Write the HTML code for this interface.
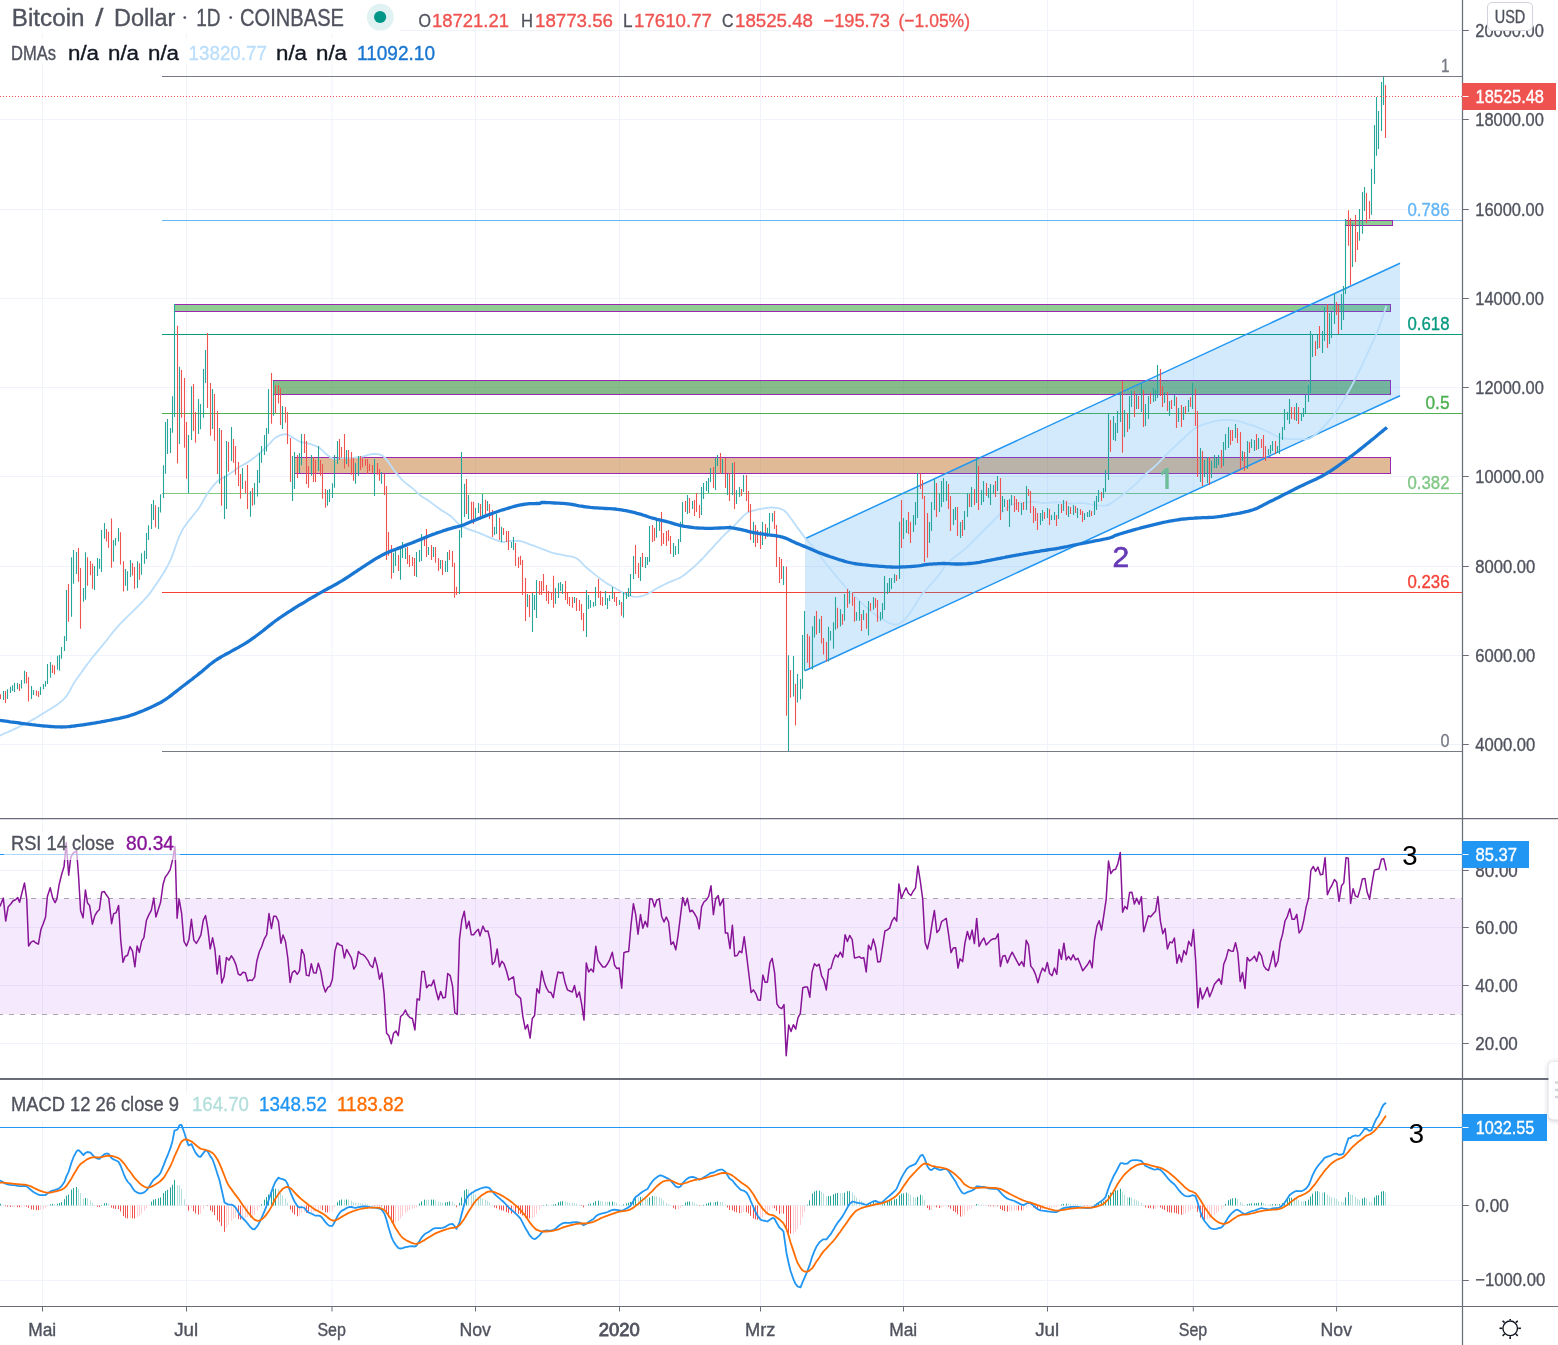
<!DOCTYPE html>
<html><head><meta charset="utf-8"><title>BTCUSD</title>
<style>html,body{margin:0;padding:0;background:#fff;overflow:hidden}svg{display:block;will-change:transform}text{font-family:"Liberation Sans", sans-serif}</style>
</head><body>
<svg width="1558" height="1345" viewBox="0 0 1558 1345" font-family='"Liberation Sans", sans-serif' shape-rendering="auto"><line x1="42.5" y1="0" x2="42.5" y2="1306" stroke="#f0f3fa" stroke-width="1"/>
<line x1="186.5" y1="0" x2="186.5" y2="1306" stroke="#f0f3fa" stroke-width="1"/>
<line x1="332.0" y1="0" x2="332.0" y2="1306" stroke="#f0f3fa" stroke-width="1"/>
<line x1="475.5" y1="0" x2="475.5" y2="1306" stroke="#f0f3fa" stroke-width="1"/>
<line x1="619.5" y1="0" x2="619.5" y2="1306" stroke="#f0f3fa" stroke-width="1"/>
<line x1="760.5" y1="0" x2="760.5" y2="1306" stroke="#f0f3fa" stroke-width="1"/>
<line x1="903.5" y1="0" x2="903.5" y2="1306" stroke="#f0f3fa" stroke-width="1"/>
<line x1="1047.5" y1="0" x2="1047.5" y2="1306" stroke="#f0f3fa" stroke-width="1"/>
<line x1="1193.3" y1="0" x2="1193.3" y2="1306" stroke="#f0f3fa" stroke-width="1"/>
<line x1="1336.6" y1="0" x2="1336.6" y2="1306" stroke="#f0f3fa" stroke-width="1"/>
<line x1="0" y1="30.5" x2="1462.5" y2="30.5" stroke="#f0f3fa" stroke-width="1"/>
<line x1="0" y1="119.5" x2="1462.5" y2="119.5" stroke="#f0f3fa" stroke-width="1"/>
<line x1="0" y1="209.5" x2="1462.5" y2="209.5" stroke="#f0f3fa" stroke-width="1"/>
<line x1="0" y1="298.5" x2="1462.5" y2="298.5" stroke="#f0f3fa" stroke-width="1"/>
<line x1="0" y1="387.5" x2="1462.5" y2="387.5" stroke="#f0f3fa" stroke-width="1"/>
<line x1="0" y1="476.5" x2="1462.5" y2="476.5" stroke="#f0f3fa" stroke-width="1"/>
<line x1="0" y1="566.5" x2="1462.5" y2="566.5" stroke="#f0f3fa" stroke-width="1"/>
<line x1="0" y1="655.5" x2="1462.5" y2="655.5" stroke="#f0f3fa" stroke-width="1"/>
<line x1="0" y1="744.5" x2="1462.5" y2="744.5" stroke="#f0f3fa" stroke-width="1"/>
<line x1="0" y1="870.5" x2="1462.5" y2="870.5" stroke="#f0f3fa" stroke-width="1"/>
<line x1="0" y1="927.5" x2="1462.5" y2="927.5" stroke="#f0f3fa" stroke-width="1"/>
<line x1="0" y1="985.5" x2="1462.5" y2="985.5" stroke="#f0f3fa" stroke-width="1"/>
<line x1="0" y1="1043.5" x2="1462.5" y2="1043.5" stroke="#f0f3fa" stroke-width="1"/>
<line x1="0" y1="1205.5" x2="1462.5" y2="1205.5" stroke="#f0f3fa" stroke-width="1"/>
<line x1="0" y1="1280.5" x2="1462.5" y2="1280.5" stroke="#f0f3fa" stroke-width="1"/>
<rect x="0" y="898.5" width="1462.5" height="116" fill="rgba(160,50,240,0.105)"/>
<line x1="-2" y1="898.5" x2="1462.5" y2="898.5" stroke="#a6a6ac" stroke-width="1.1" stroke-dasharray="5 6"/>
<line x1="-2" y1="1014.5" x2="1462.5" y2="1014.5" stroke="#a6a6ac" stroke-width="1.1" stroke-dasharray="5 6"/>
<line x1="162" y1="76.5" x2="1462.5" y2="76.5" stroke="#787b86" stroke-width="1"/>
<line x1="162" y1="220.5" x2="1462.5" y2="220.5" stroke="#64b5f6" stroke-width="1"/>
<line x1="162" y1="334.5" x2="1462.5" y2="334.5" stroke="#089981" stroke-width="1"/>
<line x1="162" y1="413.5" x2="1462.5" y2="413.5" stroke="#4caf50" stroke-width="1"/>
<line x1="162" y1="493.5" x2="1462.5" y2="493.5" stroke="#81c784" stroke-width="1"/>
<line x1="162" y1="592.5" x2="1462.5" y2="592.5" stroke="#f44336" stroke-width="1"/>
<line x1="162" y1="751.5" x2="1462.5" y2="751.5" stroke="#787b86" stroke-width="1"/>
<rect x="174.5" y="304.5" width="1216" height="7" fill="rgba(76,175,80,0.62)" stroke="#9c27b0" stroke-width="1"/>
<rect x="273.5" y="380.5" width="1117" height="14" fill="rgba(56,142,60,0.6)" stroke="#9c27b0" stroke-width="1"/>
<rect x="294.5" y="457.5" width="1096" height="16" fill="rgba(203,140,82,0.6)" stroke="#9c27b0" stroke-width="1"/>
<rect x="1345.5" y="220.5" width="47" height="5" fill="rgba(76,175,80,0.62)" stroke="#9c27b0" stroke-width="1"/>
<path d="M1165.6 467.9 L1168.7 467.9 L1168.7 488.9 L1165.3 488.9 L1165.3 473.0 L1161.9 475.6 L1160.5 472.9 Z" fill="#81c784"/>
<path d="M805 538.7 L1400 263.2 L1400 395.7 L805 670.7 Z" fill="rgba(33,150,243,0.20)"/>
<line x1="805" y1="538.7" x2="1400" y2="263.2" stroke="#2196f3" stroke-width="1.5"/>
<line x1="805" y1="670.7" x2="1400" y2="395.7" stroke="#2196f3" stroke-width="1.5"/>
<path d="M-0.8 735.9 L0.4 735.4 L1.9 734.7 L3.6 733.9 L5.6 733 L7.8 732.1 L10 731.1 L12.4 730 L14.7 728.9 L17 727.9 L19.2 726.8 L21.3 725.8 L23.4 724.7 L25.6 723.5 L27.7 722.4 L29.8 721.3 L31.9 720.1 L34.1 718.9 L36.2 717.7 L38.3 716.4 L40.4 715.1 L42.5 713.8 L44.7 712.5 L46.9 711.1 L49.2 709.7 L51.5 708.3 L53.8 706.8 L56 705.4 L58.1 703.9 L60.2 702.3 L62.1 700.7 L63.8 699.1 L66.7 695.8 L68.9 692.3 L70.9 688.6 L72.9 684.9 L75.2 681.1 L77.2 678.3 L79.2 675.4 L81.3 672.4 L83.5 669.4 L85.7 666.4 L87.8 663.5 L90 660.7 L92.1 658 L94.2 655.3 L96.3 652.8 L98.4 650.3 L100.5 647.7 L102.6 645.2 L104.7 642.7 L106.7 640.2 L108.6 637.7 L110.5 635.3 L112.4 632.9 L114.5 630.3 L116.8 627.6 L119.4 624.7 L121.1 622.8 L123.1 620.9 L125.1 618.8 L127.3 616.7 L129.5 614.6 L131.8 612.4 L134 610.2 L136.2 608 L138.4 605.9 L140.4 603.9 L142.3 602 L143.9 600.1 L146.8 596.9 L149.2 594.1 L151.2 591.4 L153.1 588.8 L155 586 L157 583 L159.2 579.7 L161.4 576.2 L163.7 572.7 L165.9 569 L168 565.1 L170.1 560.9 L172.4 555.4 L174.5 549.4 L176.6 543.2 L178.9 537.1 L181.6 531.4 L183.5 528.1 L185.7 524.9 L188.1 521.7 L190.5 518.6 L192.9 515.7 L195.2 512.8 L197.3 510.2 L199.1 507.7 L201.7 503.5 L203.6 500.1 L205.3 497 L207.2 493.8 L209.6 490.5 L212.1 487.2 L214.6 484.1 L217.1 481.6 L219.5 479.7 L221.9 478.4 L224.3 477.3 L226.9 475.8 L229.1 474.3 L231.4 472.6 L233.8 470.9 L236.1 469.2 L238.3 467.7 L240.9 466.1 L243.3 464.7 L245.7 463.4 L248.1 461.9 L250.6 460.2 L253 458.5 L255.5 456.6 L258 454.6 L260.4 452.4 L263 450.1 L265.4 447.8 L267.8 445.6 L269.9 443.4 L271.9 441.1 L273.8 439.1 L275.9 437.4 L278.4 436.1 L281 435 L283.5 434.4 L285.8 434.1 L288.1 434.7 L290.1 436 L292.3 437.4 L294.3 438.5 L296.4 439.8 L298.5 441 L300.5 442 L302.6 442.5 L304.5 442.7 L307 443.1 L309.1 443.7 L311.4 444.4 L314 445.3 L316.4 446.2 L318.5 447.2 L321.2 449.3 L323.5 451.6 L325.8 453.8 L328.3 455.7 L330.7 457.5 L333.2 458.7 L335.2 458.8 L337.2 458.6 L339.3 458.1 L341.4 457.8 L343.7 457.8 L346.2 457.8 L348.5 457.8 L350 457.8 L349.8 458 L349.8 457.9 L351.4 457.8 L353.6 457.7 L356.1 457.4 L358.8 457.2 L361.3 456.8 L363.6 456.3 L366 455.6 L368.3 454.9 L370.6 454.4 L372.7 454 L375.2 453.9 L377.6 454.1 L379.7 454.5 L381.7 455.2 L384.6 457.4 L387.4 460.9 L389.3 463.4 L391.4 466.4 L393.5 469.5 L395.6 472.3 L397.7 474.8 L399.7 477.1 L401.7 479.3 L403.8 481.3 L405.8 483.1 L407.9 484.7 L409.9 486.2 L412 487.9 L414 489.7 L416 491.6 L418 493.4 L420.1 495.2 L422.5 496.9 L425 498.5 L427.5 500.1 L430 501.8 L432.4 503.6 L434.8 505.4 L437.2 507.3 L439.8 509.1 L442 510.6 L444.4 512 L446.8 513.5 L449.1 515 L451.2 516.5 L453.5 518.6 L455.5 520.8 L457.4 522.9 L459.4 524.7 L461.4 526 L463.3 527 L465.3 527.8 L467.6 528.8 L469.7 529.6 L471.9 530.4 L474.3 531.2 L476.7 532 L479 532.9 L481.3 533.8 L483.6 534.8 L485.9 535.8 L488.2 536.8 L490.5 537.8 L492.8 538.7 L495.2 539.7 L497.6 540.6 L499.9 541.4 L501.9 541.9 L504.2 542 L506.1 541.7 L508 541.3 L510.1 541 L512.5 540.9 L514.9 540.8 L517.4 540.8 L519.9 541 L522.4 541.6 L524.8 542.4 L527.3 543.4 L529.7 544.3 L531.9 545.1 L534.3 545.9 L536.5 546.8 L538.5 547.5 L540 548.1 L540.7 548.4 L541.4 548.8 L543.1 549.4 L545.3 550.2 L547.8 551.2 L550.4 552.1 L552.9 552.9 L555.2 553.5 L557.6 554 L559.9 554.4 L562.2 554.9 L564.3 555.3 L567 555.8 L569.7 556.3 L572.1 556.7 L574.2 557.3 L576.8 558.5 L579.1 560.2 L581 562.1 L583.1 564.3 L585.6 566.8 L587.8 568.7 L590.3 570.8 L592.9 572.9 L595.4 574.9 L597.9 576.9 L600.3 578.8 L602.8 580.6 L605.2 582.3 L607.7 583.9 L610.3 585.3 L612.7 586.7 L615.1 588 L617.2 589.4 L619.2 590.6 L621.2 591.8 L623.2 592.9 L625.3 593.9 L627.3 594.9 L629.4 595.6 L631.4 596.2 L633.5 596.6 L635.5 596.8 L637.5 596.7 L639.6 596.5 L641.6 596.1 L643.6 595.5 L645.6 594.7 L647.8 593.8 L650.1 592.5 L652.5 591.1 L655 589.5 L657.6 588 L659.8 586.9 L662 585.7 L664.4 584.5 L666.7 583.4 L669 582.3 L671.3 581.3 L673.7 580.4 L676 579.5 L678.3 578.5 L680.5 577.4 L683.1 575.8 L685.5 574 L687.9 572 L690.3 570 L692.8 567.9 L695.2 565.7 L697.7 563.4 L700.1 561 L702.6 558.5 L705 555.8 L707.5 553.1 L709.9 550.4 L712.4 547.8 L714.8 545.1 L717.3 542.4 L719.7 539.8 L722 537.4 L724.4 534.9 L726.8 532.5 L728.8 530.4 L730 529.1 L729.2 530.2 L728.2 531.6 L729.5 530.3 L731.5 528.3 L734 525.8 L736.4 523.4 L738.7 520.9 L741.3 518.2 L743.8 515.6 L746.2 513.6 L748.3 512.3 L750.3 511.5 L752.2 510.9 L754.3 510.3 L756.7 509.7 L759.2 509.2 L761.7 508.8 L764.2 508.4 L766.6 508 L769.1 507.7 L771.5 507.5 L774 507.6 L776.5 507.9 L779.1 508.4 L781.6 509.2 L783.8 510.3 L786.2 512.3 L788.2 514.8 L790.3 517.7 L792.3 520.3 L794.3 523.2 L796.4 526.2 L798.5 529.1 L800.6 531.9 L802.6 534.6 L804.6 537.3 L806.7 539.8 L808.7 542 L810.7 544.1 L812.7 546.3 L814.9 548.8 L817.2 551.8 L819.7 555.1 L822.2 558.5 L824.7 561.9 L827.1 565 L829.6 568.1 L832 571.1 L834.5 574.1 L837 577.1 L839.4 580 L841.9 582.8 L844.3 585.6 L846.8 588.1 L849.2 590.6 L851.7 593 L854.1 595.4 L856.6 597.9 L859 600.4 L861.5 602.9 L863.9 605.2 L866.4 607.4 L868.8 609.5 L871.3 611.5 L873.8 613.4 L876.2 615.2 L878.7 616.9 L881.1 618.5 L883.6 619.9 L886.1 621.3 L888.7 622.7 L891.2 623.8 L893.4 624.5 L895.8 624.7 L897.9 624.2 L899.9 623.2 L902.1 621.7 L904.3 619.8 L906.5 617.5 L908.6 614.8 L910.8 611.8 L913 608.5 L915.3 604.7 L917.7 600.7 L920 597 L922 594.4 L923.9 592.2 L926.4 589.4 L928.3 587.1 L930.6 584.5 L933.1 581.8 L935.5 579 L937.8 576.3 L940.4 572.9 L942.8 569.4 L945.2 566.1 L947.6 563.2 L950.1 560.8 L952.5 558.8 L955 556.9 L957.4 555 L959.9 553 L962.4 550.9 L964.9 548.9 L967.2 546.8 L969.4 544.8 L971.4 542.8 L973.4 540.7 L975.4 538.7 L977.5 536.6 L979.5 534.6 L981.6 532.5 L983.6 530.5 L985.6 528.5 L987.6 526.5 L989.6 524.5 L991.8 522.3 L994.1 519.9 L996.6 517.3 L999.1 514.8 L1001.6 512.5 L1004.1 510.4 L1006.5 508.3 L1009 506.5 L1011.4 505.1 L1013.8 504.2 L1016.2 503.7 L1018.7 503.3 L1021.2 503 L1023.4 502.7 L1025.7 502.4 L1028 502.1 L1030.4 501.9 L1032.7 501.9 L1034.9 502 L1037.2 502.2 L1039.4 502.6 L1041.7 502.9 L1044.1 503 L1046.2 503 L1048.4 502.9 L1050.6 502.7 L1052.8 502.5 L1055 502.4 L1057.2 502.3 L1059.4 502.5 L1061.6 502.7 L1063.9 502.9 L1066.1 503.2 L1068.2 503.4 L1070.3 503.5 L1072.7 503.5 L1075 503.3 L1077.2 503.1 L1079.5 503 L1081.7 503 L1084.1 503.2 L1086.4 503.5 L1088.7 503.9 L1091 504.3 L1093.2 504.6 L1095.8 505 L1098.4 505.3 L1100.8 505.6 L1103 505.6 L1106 505.3 L1108.6 504.6 L1110 504.3 L1108.2 505.2 L1106.5 505.7 L1107.7 504.9 L1109.8 503.7 L1112.3 502.3 L1114.7 500.7 L1117.1 499.1 L1119.5 497.3 L1122 495.3 L1124.5 493.4 L1127 491.4 L1129.4 489.4 L1131.9 487.4 L1134.3 485.2 L1136.8 482.8 L1139.3 480.3 L1141.7 477.8 L1144.2 475.4 L1146.6 473.3 L1149.1 471.3 L1151.5 469.3 L1154 467.2 L1156.4 464.9 L1158.9 462.4 L1161.3 459.9 L1163.8 457.4 L1166.2 454.9 L1168.7 452.4 L1171.2 450 L1173.6 447.6 L1176.1 445.3 L1178.5 443 L1181 440.8 L1183.4 438.6 L1185.9 436.2 L1188.3 433.8 L1190.8 431.6 L1193.2 429.6 L1195.6 428 L1198 426.8 L1200.5 425.7 L1203 424.7 L1205.3 423.9 L1207.6 423.2 L1210 422.5 L1212.3 421.9 L1214.5 421.4 L1217 420.8 L1219.4 420.3 L1221.8 420 L1224.3 419.8 L1226.5 419.7 L1228.8 419.8 L1231.1 420 L1233.4 420.2 L1235.8 420.6 L1238.1 421.1 L1240.4 421.7 L1242.7 422.4 L1245 423.2 L1247.2 423.9 L1249.7 424.6 L1252.1 425.4 L1254.5 426.2 L1257 427.1 L1259.2 428 L1261.6 429 L1263.9 430 L1266.3 431 L1268.5 432 L1271 433.3 L1273.5 434.7 L1275.9 435.9 L1278.3 437 L1280.7 437.7 L1283.1 438.2 L1285.5 438.6 L1288.1 438.9 L1290.4 439.1 L1292.8 439.1 L1295.3 439.1 L1297.8 439.1 L1300 439.1 L1302.6 439.2 L1304.9 439.3 L1307.1 439.2 L1309.4 438.6 L1311.9 437.3 L1314.3 435.5 L1316.8 433.4 L1319.3 431.2 L1321.7 428.8 L1324.3 426.1 L1326.7 423.3 L1329.1 420.6 L1331.2 418 L1333.3 415.4 L1335.2 412.8 L1337.2 409.9 L1339.3 406.9 L1341.3 403.6 L1343.4 400.3 L1345.4 396.8 L1347.5 393.3 L1349.5 389.7 L1351.6 386 L1353.6 382.1 L1355.7 378.2 L1357.7 374.1 L1359.7 370 L1361.8 365.8 L1363.8 361.4 L1365.9 356.9 L1367.9 352.3 L1370 347.8 L1372 343.4 L1374.1 339.1 L1376.1 334.7 L1378.1 329.8 L1380.4 323.7 L1382.7 316.8 L1384.9 310.5 L1386.3 306.1" fill="none" stroke="#bbdefb" stroke-width="1.8" stroke-linejoin="round" stroke-linecap="butt"/>
<path d="M3.5 690.9V699.9M7.5 689.3V699.1M10.5 686.8V693.1M12.5 685.2V690.9M14.5 682.8V692.1M17.5 683.1V689.3M21.5 680V688.5M24.5 670.8V683.6M31.5 686V699.1M33.5 690.1V695M40.5 686.8V695M43.5 684.1V689.3M45.5 681.1V686.8M47.5 663.9V684.1M50.5 662V677.8M57.5 655.8V669.7M59.5 654.9V670.8M61.5 647.1V658.7M64.5 636.1V650.9M66.5 590V641M71.5 557.3V616.8M73.5 549.9V583.8M76.5 551.9V574M83.5 587.9V601.8M85.5 552.2V599.8M94.5 566.1V590M97.5 558.1V575.9M99.5 558.8V568.7M101.5 530.1V572M104.5 522.9V538.8M113.5 540V561.7M115.5 538V545.8M118.5 527.9V541.6M125.5 569.1V585.8M127.5 571.2V590.7M130.5 560.1V576.9M137.5 561.2V587.9M141.5 553.2V574.8M144.5 550.8V563.8M146.5 533.1V558.9M148.5 525.2V540M151.5 504.1V529M153.5 499.9V520M158.5 506.9V529M160.5 494.2V512.6M163.5 465.2V497.9M165.5 421.9V473.7M167.5 419.1V454.1M170.5 428.1V452.9M172.5 396.2V432.8M174.5 304.1V417M179.5 366.7V443.9M188.5 435.1V493M191.5 386.2V439.9M198.5 399V434.1M200.5 403.9V429.2M203.5 369V417.8M205.5 349.9V382.9M212.5 389.1V428.9M219.5 428.1V483.7M224.5 475.8V518.9M226.5 441V508.9M231.5 426.9V461.1M242.5 468V488.9M250.5 491V516.7M254.5 482.9V504.8M257.5 470.1V496.6M259.5 452.9V482.9M261.5 446.1V462.8M264.5 434.9V454.9M266.5 428.1V451.6M268.5 389.1V433.8M273.5 381V415.8M282.5 406V428.9M292.5 455.9V500.9M294.5 452V488.9M299.5 452.9V473.1M301.5 434.1V465.2M311.5 454.9V475.8M318.5 446.1V470.9M327.5 490.1V505.8M329.5 488.9V502M332.5 483.2V497.9M334.5 454.9V487.8M337.5 441V464.1M346.5 450V464.1M355.5 462.9V483.8M358.5 456V475.9M374.5 458.9V495.9M381.5 472V483.8M393.5 552.8V572.9M395.5 550V566.1M400.5 547.9V579.8M402.5 541.9V557.9M405.5 547.9V559M416.5 552V577M419.5 550V562M421.5 534V561M428.5 546.9V554.9M433.5 546.9V556.9M440.5 560V568.8M445.5 561V572M447.5 552V572M459.5 529.9V593.9M461.5 451.9V537.8M464.5 483.8V517M468.5 494.9V519M475.5 507.8V519M478.5 502.9V512.9M482.5 493.9V516M487.5 501V510.9M494.5 526.8V535M496.5 513.9V534M501.5 526.8V541.9M511.5 541.9V547.9M513.5 537V550M527.5 593.9V607M532.5 592.9V632M534.5 594.9V610.1M536.5 580V617.9M555.5 588V603.9M558.5 583V598M560.5 582V591M562.5 583.9V593.9M574.5 597V602.9M586.5 590V636.9M588.5 594.9V609M590.5 600V607.8M593.5 601.9V606.8M595.5 586.9V605.9M605.5 591V604.9M607.5 598V609M609.5 594.9V601M612.5 586.9V599M619.5 600V604.9M623.5 592V617.8M626.5 592V599M628.5 588V597M630.5 574.1V595.9M633.5 556V579M640.5 557V581M645.5 557V567.9M647.5 557V565M649.5 525.9V561.9M656.5 519.8V537.8M659.5 521.8V530.9M673.5 542.9V557M675.5 546V555M678.5 539V554M680.5 521.8V541.9M682.5 502V526.9M687.5 495V513.9M692.5 501V508.9M701.5 486.9V514.9M703.5 483V498.9M706.5 480.9V490.9M708.5 477.9V493M710.5 468V481.9M715.5 458V489.9M717.5 455V466M722.5 459V474M727.5 474V495M732.5 462.9V495M736.5 489.9V504M739.5 486.9V496.9M743.5 475V492M753.5 521.8V542.9M762.5 521.8V545M767.5 527.8V536.8M769.5 513V533.9M772.5 513V521.8M783.5 565.9V584.9M788.5 655.3V751.3M793.5 656V696.4M797.5 674.1V702.5M800.5 679V699.5M802.5 634.9V688.7M804.5 611V670.7M812.5 626.2V669.4M814.5 615.9V637.5M819.5 619.1V632.9M828.5 626.8V661.4M830.5 630.9V640.6M833.5 622.2V648.7M835.5 597.1V629.8M840.5 609.2V626.6M844.5 594.1V620.8M849.5 591V603.8M856.5 612.1V620.8M859.5 601.1V620.8M863.5 610.1V620.1M868.5 601V635.5M873.5 597.1V609.7M880.5 612.1V620.8M882.5 603V618.8M884.5 575.9V609.9M887.5 583V593.9M889.5 577.9V592M891.5 577.9V589M894.5 574V583M899.5 521.8V579M903.5 517.9V539M906.5 520V532.9M913.5 514.9V531.9M915.5 502V524.9M917.5 473V517.9M929.5 522V542.9M931.5 501.9V531M934.5 479V509.9M939.5 494V512M941.5 480.9V506.9M943.5 478V501.9M946.5 480.9V500.9M953.5 508.9V524.9M955.5 506.9V519.9M960.5 522V538M964.5 510.9V530M967.5 492.9V516.9M971.5 487V506.9M976.5 456.9V503M981.5 489.9V505M983.5 480.9V501.9M988.5 488V497.9M990.5 483.9V505M993.5 485V494M997.5 476V490.9M1002.5 496V512M1004.5 498.9V506.9M1009.5 498.9V526.9M1011.5 495V505M1021.5 503V514.9M1026.5 486V509.9M1040.5 513V524.9M1042.5 509.9V521M1047.5 507.9V517.9M1051.5 514.9V519.9M1054.5 512V519.9M1058.5 504V519M1063.5 499.9V510.9M1068.5 505.9V516.9M1073.5 505V514.9M1077.5 507.9V517.9M1084.5 513V519.9M1087.5 512V516.9M1089.5 509.9V516.9M1094.5 500.9V514.9M1096.5 496V509.9M1098.5 489.9V501.9M1103.5 488V497.9M1105.5 470V491.9M1108.5 413V479.9M1113.5 416V439.9M1115.5 422.9V440.9M1117.5 410.9V432.9M1120.5 392V421.9M1124.5 410V437M1129.5 395.9V428.9M1131.5 391V406.9M1136.5 394.9V409M1141.5 384V411.9M1145.5 403.9V426M1148.5 395.9V419M1153.5 387.9V401.9M1155.5 390V401M1157.5 365V397.9M1164.5 392V402.9M1169.5 401V416M1174.5 394.9V405.9M1178.5 408V421.9M1183.5 406.9V419.9M1188.5 400V411.9M1192.5 383V409M1200.5 447.9V481.9M1204.5 459.9V477M1207.5 456.9V482.9M1211.5 461V478M1214.5 454.9V468M1216.5 457.9V468M1218.5 454.9V464.9M1223.5 441.9V465.9M1225.5 434V449.9M1228.5 427V447.9M1235.5 423.9V437.9M1242.5 450.9V461M1247.5 440.9V469M1251.5 438.9V447.9M1254.5 439.9V450.9M1258.5 437.9V448.9M1268.5 448.9V454.9M1270.5 445V454M1272.5 440.9V450.9M1277.5 445.9V453M1279.5 432.9V454M1282.5 427V439.9M1284.5 409V429.9M1287.5 411.9V419.9M1289.5 399V423.9M1296.5 402.9V420.9M1301.5 412.9V420.9M1303.5 408V417M1305.5 394.9V414M1308.5 384.9V401.9M1310.5 330.9V392.9M1312.5 333.9V356.9M1317.5 335V348.9M1322.5 330.9V353M1324.5 306.9V340.9M1329.5 312.9V344M1331.5 311.9V338M1334.5 294V323.9M1341.5 294V329.9M1343.5 285.9V320M1345.5 218.9V293.9M1352.5 223.2V267M1359.5 209V240.8M1362.5 192.1V233.8M1364.5 187.1V210.9M1371.5 169.1V214.7M1374.5 125V183.9M1376.5 97V155.8M1378.5 111.1V149M1381.5 81.9V130.9M1383.5 76.7V104.9" stroke="#26a69a" stroke-width="1.1" fill="none"/>
<path d="M0.5 694.2V699.1M5.5 690.9V702.9M19.5 684.1V690.9M26.5 672.1V683.6M28.5 677V701.6M36.5 690.6V695.8M38.5 691.3V697M52.5 664.8V672.9M54.5 665.6V674.6M68.5 584.1V621.7M78.5 548.1V581.8M80.5 568.1V628.8M87.5 557.3V585.8M90.5 560.9V575.3M92.5 563.8V588.7M106.5 529V541.6M108.5 531.8V547.8M111.5 518.4V567.8M120.5 532.3V564.5M123.5 561.2V591.6M132.5 562.9V575.6M134.5 567.1V588.7M139.5 563.3V579.7M155.5 505.3V527.4M177.5 325.8V463.6M181.5 370V417.8M184.5 378V447.7M186.5 421.9V478.8M193.5 384.1V430.9M195.5 412V442.8M207.5 333V408M210.5 382.9V435.8M214.5 393.9V440.7M217.5 410.9V473.9M221.5 430V505.8M228.5 442V471.7M233.5 439V462.8M235.5 446.1V474.7M238.5 461.9V486M240.5 473.9V498.7M245.5 480.7V493M247.5 464.9V508.9M252.5 488.1V505.8M271.5 373.1V423.8M275.5 385.1V413.2M278.5 385.1V403.5M280.5 388.3V425M285.5 407.1V422.8M287.5 412V443.9M290.5 437.9V481.9M297.5 455.1V478M304.5 434.1V452.9M306.5 441V484M308.5 465.9V487.8M313.5 457V481.9M315.5 460V481.9M320.5 460V475.8M322.5 463.9V498.7M325.5 488.9V507.7M339.5 439V460M341.5 446.9V457.8M344.5 434.1V468.5M348.5 450V466.8M351.5 451.9V474.8M353.5 457.9V480.8M360.5 456V469.9M362.5 457.9V467.4M365.5 458.9V465.8M367.5 458.9V474M369.5 463.8V471M372.5 465V473.2M377.5 462.9V474.8M379.5 468.7V480.8M384.5 474V494.9M386.5 485.9V559.9M388.5 532V555.8M391.5 545V578.7M398.5 554.9V571M407.5 546.9V563.9M409.5 554.9V566.9M412.5 557.1V566.1M414.5 557.9V575.9M424.5 536.1V545.9M426.5 529.1V556.9M431.5 545V559.9M435.5 546.9V562.8M438.5 557.9V571M442.5 560V574.9M449.5 550V560M452.5 550.9V566.9M454.5 562.8V597.8M456.5 586.8V595M466.5 478.9V514.1M471.5 501.8V521.9M473.5 501.8V523.9M480.5 503.9V519M485.5 499.8V514.1M489.5 503.9V519M492.5 510V537M499.5 517.8V539.9M503.5 528V535M506.5 530.9V541.9M508.5 530.9V550M515.5 543V566.1M518.5 556.9V568M520.5 555.8V565.1M522.5 560V594.9M525.5 578V620.9M529.5 594.9V616.9M539.5 581V594.9M541.5 581V594.9M543.5 574.1V591M546.5 584.9V601M548.5 591V603.9M551.5 592V600M553.5 575.8V607.8M565.5 581V600M567.5 592.9V603.9M569.5 597V605.9M572.5 597V607.8M576.5 598V610.9M579.5 600V610.9M581.5 603.9V619.9M583.5 612.9V630.9M598.5 579V598M600.5 591V604.9M602.5 597V605.9M614.5 592.9V601.9M616.5 597V605.9M621.5 601.9V615.8M635.5 545V574.1M638.5 563V577.9M642.5 552.9V566.9M652.5 525.1V541.9M654.5 527.8V540.9M661.5 512V546M663.5 532.9V543.9M666.5 530.9V546M668.5 530V540.9M670.5 536V554M685.5 501V512M689.5 497.9V513M694.5 499.9V515.9M696.5 493V512M699.5 504.9V517.9M713.5 467V487.9M720.5 452.9V474M725.5 458V487.9M729.5 473V501M734.5 461.9V508.9M741.5 488.9V495.9M746.5 475V501M748.5 490.9V512M750.5 504V539.9M755.5 524.9V547M757.5 530V542.9M760.5 530.9V548.9M765.5 523.9V539M774.5 511V529M776.5 524.9V566.9M779.5 557V583M781.5 558.9V579M786.5 566.6V715.8M790.5 669.9V697.8M795.5 683.7V725.6M807.5 633.9V662.7M809.5 636.2V667.7M816.5 611V634.6M821.5 615.9V643.6M823.5 637.9V654.5M826.5 642V661.6M837.5 607.8V628.4M842.5 614.1V624.8M847.5 589.1V607.8M852.5 592.4V605.7M854.5 597.1V621.8M861.5 614.1V630.9M866.5 613.2V628.8M870.5 603V610.8M875.5 598.1V607.8M877.5 600.1V621.8M896.5 574.9V581M901.5 500V548M908.5 512V533.9M910.5 521.8V542.9M920.5 473.6V488.9M922.5 479.9V498.9M924.5 496V561.9M927.5 513V557.8M936.5 482.9V516.9M948.5 483.9V508.9M950.5 496V531M957.5 506.9V535.9M962.5 519.9V535.9M969.5 494V506.9M974.5 488.9V505M978.5 465.9V509.9M986.5 482.9V496M995.5 480.9V497M1000.5 478V519.9M1007.5 499.9V510.9M1014.5 496V512M1016.5 498.9V509.9M1018.5 501.9V512M1023.5 501.9V509.9M1028.5 488.9V496M1030.5 490.9V513M1033.5 505.9V523M1035.5 507.9V521M1037.5 513V530M1044.5 512V519M1049.5 508.9V524.9M1056.5 514.9V525.9M1061.5 504V513M1066.5 500.9V514.9M1070.5 506.9V514M1075.5 505.9V513M1080.5 508.9V514.9M1082.5 510.9V522M1091.5 510.9V515.9M1101.5 491.9V500.9M1110.5 419.9V451.8M1122.5 381V452.8M1127.5 412.9V431.9M1134.5 391V417M1138.5 395.9V409M1143.5 390V427M1150.5 393V403.9M1160.5 368.9V395.9M1162.5 385.9V406.9M1167.5 392V410.9M1171.5 400V409M1176.5 396.9V428M1181.5 404.9V427M1185.5 405.9V413.9M1190.5 396.9V406.9M1195.5 388.9V426M1197.5 410.9V477M1202.5 450.9V485.9M1209.5 456.9V484.9M1221.5 449.9V468M1230.5 429.9V445M1232.5 429.9V440.9M1237.5 428V443M1240.5 431.9V469M1244.5 452V471M1249.5 441.9V453M1256.5 434V449.9M1261.5 438.9V447.9M1263.5 435V457.9M1265.5 445.9V461M1275.5 440.9V454M1291.5 406.9V419M1294.5 406.9V419.9M1298.5 406.9V423.9M1315.5 340.9V355.9M1319.5 326V347.9M1327.5 303.9V347.9M1336.5 302V314.9M1338.5 304.9V333.9M1348.5 210.2V245.8M1350.5 218.2V285M1355.5 215.1V261.9M1357.5 232.1V250M1366.5 193.1V222.9M1369.5 201V218.9M1385.5 85.1V138" stroke="#ef5350" stroke-width="1.1" fill="none"/>
<path d="M-0.8 720.2 L0.4 720.4 L1.9 720.6 L3.6 720.8 L5.6 721.1 L7.8 721.4 L10 721.8 L12.4 722.1 L14.7 722.4 L17 722.7 L19.2 723 L21.3 723.3 L23.4 723.6 L25.6 723.9 L27.7 724.1 L29.8 724.4 L31.9 724.7 L34.1 724.9 L36.2 725.2 L38.3 725.4 L40.4 725.6 L42.5 725.8 L44.7 726 L46.8 726.1 L48.9 726.3 L51 726.5 L53.2 726.6 L55.3 726.8 L57.4 726.9 L59.5 726.9 L61.7 727 L63.8 726.9 L65.9 726.8 L68 726.7 L70.2 726.5 L72.3 726.2 L74.4 726 L76.6 725.7 L78.7 725.4 L80.8 725.1 L82.9 724.8 L85.1 724.5 L87.2 724.2 L89.3 723.8 L91.4 723.5 L93.6 723.2 L95.7 722.8 L97.8 722.4 L99.9 722.1 L102.1 721.7 L104.2 721.3 L106.3 720.9 L108.5 720.5 L110.6 720.1 L112.8 719.6 L114.9 719.2 L117.1 718.8 L119.2 718.4 L121.3 717.9 L123.4 717.4 L125.5 716.9 L127.6 716.3 L129.9 715.6 L132.1 714.8 L134.4 714.1 L136.6 713.2 L138.8 712.4 L141 711.5 L143.1 710.7 L145.2 709.8 L147.2 708.9 L149.4 708 L151.5 707 L153.6 706.1 L155.6 705.1 L157.6 704.1 L159.6 703.1 L161.5 702 L163.6 700.7 L165.6 699.4 L167.6 698 L169.5 696.6 L171.5 695.1 L173.5 693.5 L175.6 691.9 L177.7 690.2 L179.9 688.5 L181.8 687 L183.8 685.5 L185.8 684 L187.9 682.4 L190 680.8 L192.1 679.2 L194.1 677.5 L196.2 676 L198.1 674.4 L200 672.9 L202.2 671.2 L204.1 669.5 L205.9 668 L207.7 666.4 L209.6 664.8 L211.7 663.2 L214.1 661.4 L216.9 659.5 L218.5 658.5 L220.2 657.5 L222 656.4 L223.9 655.4 L225.8 654.3 L227.8 653.2 L229.9 652.1 L232 650.9 L234.1 649.7 L236.3 648.6 L238.5 647.4 L240.6 646.1 L242.8 644.9 L244.9 643.6 L247 642.3 L249 641 L251 639.6 L253 638.2 L255 636.8 L257 635.3 L259 633.8 L261 632.2 L263 630.7 L265 629.1 L267 627.5 L269 625.9 L271 624.4 L273 622.8 L275 621.3 L277 619.8 L279 618.4 L281 617 L283 615.6 L285 614.3 L287.1 612.9 L289.1 611.6 L291.2 610.3 L293.2 609 L295.3 607.7 L297.3 606.4 L299.3 605.2 L301.4 604 L303.4 602.8 L305.4 601.6 L307.3 600.4 L309.2 599.2 L311.1 598.1 L313 597 L315.3 595.7 L317.5 594.4 L319.8 593.1 L322 591.9 L324.2 590.6 L326.4 589.5 L328.5 588.3 L330.6 587.2 L332.6 586.1 L334.6 585 L336.5 584 L338.3 582.9 L340 581.9 L342.6 580.4 L344.8 579 L346.9 577.6 L348.8 576.3 L350.7 575.1 L352.5 573.9 L354.4 572.6 L356.4 571.3 L358.4 569.9 L360.5 568.6 L362.6 567.2 L364.7 565.8 L366.8 564.4 L368.9 563.1 L370.8 561.8 L372.7 560.7 L375 559.2 L377.2 557.9 L379.3 556.7 L381.3 555.6 L383.5 554.5 L385.8 553.3 L387.7 552.5 L389.7 551.6 L391.7 550.8 L393.8 550 L395.9 549.2 L398 548.4 L400.1 547.6 L402.2 546.8 L404.2 545.9 L406.2 545.1 L408.3 544.3 L410.3 543.5 L412.4 542.7 L414.4 541.9 L416.5 541 L418.5 540.2 L420.6 539.4 L422.6 538.6 L424.6 537.7 L426.7 536.9 L428.7 536 L430.8 535.2 L432.8 534.4 L434.9 533.7 L437 532.9 L439.1 532.2 L441.3 531.5 L443.4 530.7 L445.5 530.1 L447.5 529.4 L449.5 528.8 L451.2 528.3 L453.7 527.6 L455.7 527.1 L457.6 526.7 L459.6 526.2 L461.9 525.5 L464 524.7 L466.2 523.8 L468.6 522.8 L470.9 521.8 L473.4 520.8 L475.8 519.8 L477.8 518.9 L480 518.1 L482.1 517.3 L484.2 516.4 L486.4 515.6 L488.5 514.8 L490.5 514.1 L492.7 513.2 L494.9 512.5 L497 511.8 L499.1 511 L501.3 510.3 L503.6 509.6 L505.6 509 L507.8 508.3 L509.9 507.7 L512.1 507 L514.3 506.4 L516.3 505.9 L518.3 505.4 L520.8 504.9 L523.2 504.5 L525.4 504.2 L527.6 503.9 L529.7 503.7 L532 503.6 L534.4 503.6 L536.6 503.5 L538.6 503.5 L540 503.4 L540.6 502.9 L541.4 502.5 L543 502.5 L544.9 502.5 L547.3 502.6 L549.7 502.7 L552.2 502.9 L554.5 503 L556.7 503.1 L559 503.2 L561.2 503.3 L563.4 503.4 L565.5 503.6 L567.6 503.8 L570 504.1 L572.3 504.5 L574.6 504.9 L576.8 505.4 L579.1 505.8 L581.3 506.1 L583.6 506.5 L585.8 506.8 L588.1 507.1 L590.5 507.4 L592.6 507.6 L594.8 507.8 L597.1 507.9 L599.3 508.1 L601.5 508.2 L603.6 508.4 L606 508.5 L608.2 508.6 L610.4 508.7 L612.7 508.8 L615.1 509 L617.1 509.3 L619.3 509.6 L621.5 509.9 L623.7 510.3 L625.9 510.7 L628.1 511.2 L630.3 511.6 L632.6 512.1 L634.8 512.7 L637 513.3 L639.1 513.8 L641.2 514.4 L643.6 515.2 L645.8 515.9 L648.1 516.7 L650.3 517.5 L652.7 518.2 L654.8 518.7 L657 519.3 L659.2 519.8 L661.5 520.3 L663.7 520.8 L665.8 521.3 L668.2 522 L670.5 522.7 L672.8 523.4 L675.1 524.1 L677.2 524.7 L679.7 525.3 L682.1 525.8 L684.5 526.3 L687 526.7 L689.2 527 L691.5 527.3 L693.8 527.6 L696.2 527.8 L698.5 528 L700.8 528.1 L703.1 528.2 L705.5 528.3 L707.7 528.3 L709.9 528.3 L712.5 528.3 L714.9 528.2 L717.3 528.1 L719.7 528 L721.9 527.9 L724.3 527.8 L726.7 527.7 L728.7 527.6 L730 527.5 L729.9 527.3 L729.8 527.5 L731.4 527.8 L733.6 528.2 L736.1 528.6 L738.8 529.1 L741.3 529.6 L743.5 530.2 L745.8 530.7 L748 531.3 L750.3 531.9 L752.7 532.4 L754.8 532.8 L757 533.2 L759.3 533.6 L761.5 533.9 L763.7 534.2 L765.8 534.5 L768.2 534.9 L770.7 535.1 L773 535.4 L775.2 535.7 L777.2 536 L779.4 536.4 L781.3 536.8 L783.2 537.4 L785.4 538.1 L787.5 539 L789.8 540 L792.1 541.2 L794.5 542.3 L796.9 543.4 L799.2 544.3 L801.5 545.2 L803.7 546.1 L806 547 L808.3 548 L810.6 548.9 L812.9 549.9 L815.2 550.9 L817.5 551.9 L819.8 552.9 L822.1 553.7 L824.4 554.6 L826.6 555.4 L828.9 556.2 L831.2 557 L833.5 557.7 L835.8 558.5 L838.1 559.3 L840.4 560 L842.7 560.7 L844.9 561.4 L847.2 562 L849.4 562.5 L851.7 563 L854.1 563.5 L856.2 563.8 L858.4 564.1 L860.6 564.4 L862.8 564.7 L865 564.9 L867.2 565.1 L869.4 565.4 L871.6 565.6 L873.8 565.8 L875.9 565.9 L878.1 566.1 L880.3 566.3 L882.5 566.4 L884.8 566.6 L887 566.8 L889.3 566.9 L891.4 567 L893.4 567.1 L896.1 567.1 L898.5 567.1 L900.8 567 L903.2 566.9 L905.7 566.8 L908.3 566.6 L910.8 566.5 L913 566.3 L915.6 566.1 L917.9 565.9 L920 565.6 L921.8 565.3 L923.5 564.9 L926.4 564.5 L927.9 564.4 L929.7 564.2 L931.8 564.1 L933.9 563.9 L936.1 563.8 L938.4 563.7 L940.6 563.6 L942.7 563.5 L944.8 563.5 L946.8 563.6 L948.8 563.7 L950.9 563.8 L952.9 563.9 L955 564 L957 564 L959.1 564 L961.1 564 L963.2 563.9 L965.2 563.8 L967.2 563.7 L969.3 563.5 L971.3 563.3 L973.4 563.1 L975.4 562.9 L977.5 562.6 L979.5 562.3 L981.6 561.9 L983.6 561.5 L985.7 561.1 L987.7 560.7 L989.7 560.3 L991.8 559.9 L993.8 559.5 L995.9 559.1 L997.9 558.7 L1000 558.3 L1002 557.9 L1004.1 557.5 L1006.1 557 L1008.1 556.7 L1010.2 556.3 L1012.2 555.9 L1014.3 555.5 L1016.3 555.2 L1018.4 554.8 L1020.4 554.4 L1022.5 554.1 L1024.5 553.7 L1026.5 553.4 L1028.6 553 L1030.6 552.6 L1032.7 552.3 L1034.7 551.9 L1036.8 551.6 L1038.8 551.3 L1040.9 550.9 L1042.9 550.6 L1044.9 550.3 L1047 550 L1049 549.7 L1051.1 549.4 L1053.1 549.1 L1055.2 548.8 L1057.2 548.5 L1059.3 548.1 L1061.3 547.7 L1063.3 547.3 L1065.4 546.9 L1067.4 546.5 L1069.5 546 L1071.5 545.6 L1073.6 545.2 L1075.6 544.8 L1077.6 544.4 L1079.5 544 L1081.5 543.6 L1083.5 543.2 L1085.6 542.8 L1087.7 542.4 L1089.9 541.9 L1091.8 541.6 L1093.9 541.1 L1096.1 540.7 L1098.4 540.3 L1100.6 539.9 L1102.8 539.4 L1104.9 539 L1106.8 538.6 L1108.6 538.2 L1110 537.8 L1112.8 536.9 L1114 536.1 L1116.4 535.1 L1117.9 534.6 L1119.7 534 L1121.8 533.4 L1123.9 532.7 L1126.1 532.1 L1128.4 531.4 L1130.6 530.8 L1132.7 530.2 L1134.8 529.6 L1136.8 529 L1138.8 528.5 L1140.9 527.9 L1142.9 527.4 L1145 526.8 L1147 526.3 L1149.1 525.8 L1151.1 525.3 L1153.2 524.8 L1155.2 524.3 L1157.2 523.8 L1159.3 523.3 L1161.3 522.9 L1163.4 522.4 L1165.4 522 L1167.5 521.6 L1169.5 521.2 L1171.6 520.8 L1173.6 520.5 L1175.7 520.1 L1177.7 519.8 L1179.7 519.5 L1181.8 519.2 L1183.8 519 L1185.9 518.8 L1187.9 518.6 L1190 518.4 L1192 518.3 L1194.1 518.2 L1196.1 518 L1198.1 517.9 L1200.2 517.8 L1202.2 517.7 L1204.3 517.6 L1206.3 517.6 L1208.4 517.5 L1210.4 517.4 L1212.5 517.3 L1214.5 517.1 L1216.6 516.9 L1218.7 516.6 L1220.8 516.3 L1222.9 516 L1225 515.6 L1227 515.3 L1229 515 L1230.9 514.6 L1233.2 514.2 L1235.5 513.9 L1237.7 513.5 L1239.8 513.1 L1241.9 512.6 L1243.9 512.2 L1246.3 511.6 L1248.6 511.1 L1250.9 510.4 L1253.1 509.7 L1255.4 508.9 L1257.7 507.9 L1259.9 506.8 L1262.1 505.7 L1264.4 504.4 L1266.8 503.2 L1269 502.1 L1271.2 501 L1273.5 499.9 L1275.7 498.7 L1277.9 497.7 L1279.9 496.7 L1282.6 495.3 L1285 494.1 L1287.3 493 L1289.7 491.7 L1291.5 490.8 L1293.1 490 L1294.8 489.1 L1297 488 L1300 486.5 L1301.6 485.8 L1303.4 484.9 L1305.3 484 L1307.4 483.1 L1309.6 482.1 L1311.8 481.1 L1314.1 480 L1316.4 478.9 L1318.6 477.8 L1320.8 476.7 L1323 475.5 L1325 474.4 L1327.3 473 L1329.6 471.6 L1331.9 470.1 L1334.1 468.6 L1336.3 467.1 L1338.4 465.6 L1340.6 464 L1342.7 462.5 L1344.8 460.9 L1346.9 459.4 L1349 457.9 L1351 456.3 L1353.1 454.8 L1355.1 453.2 L1357.1 451.7 L1359.1 450.1 L1361 448.6 L1363 447 L1365 445.4 L1367 443.8 L1369.1 442.1 L1371.3 440.3 L1373.6 438.4 L1376 436.5 L1378.3 434.6 L1380.4 432.8 L1382.5 431.1 L1384.3 429.6 L1385.8 428.4 L1387 427.4" fill="none" stroke="#1976d2" stroke-width="3.3" stroke-linejoin="round" stroke-linecap="butt"/>
<line x1="0" y1="96.5" x2="1462.5" y2="96.5" stroke="#ef5350" stroke-width="1" stroke-dasharray="1 2"/>
<line x1="0" y1="854.5" x2="1462.5" y2="854.5" stroke="#2196f3" stroke-width="1"/>
<path d="M0 906.2 L3.3 898.1 L5.7 921 L8.2 906.7 L10.6 904.3 L13.1 900.8 L15.5 899.7 L17.7 897.6 L19.6 902.2 L22.1 892.3 L24.5 882.9 L26.7 898.9 L28.6 946 L31.1 942.2 L33.5 940.9 L36 943 L38.4 944.2 L40.9 929.6 L43.3 923.4 L45.5 917.2 L47.4 896.4 L50.2 887.8 L52.7 898.1 L55.1 902.6 L56.9 898.9 L59.2 884.2 L61.7 874.3 L64.1 866.2 L66.2 842.5 L68.7 875.2 L70.8 857.2 L73.1 853.1 L76.6 850.6 L78.5 875.2 L80.6 910.7 L83.1 917.7 L85.4 889.9 L87.5 903 L89.6 905.4 L92.4 924.2 L94.9 915.6 L97 912 L99.4 909.5 L101.7 892.3 L104.2 891.5 L106.3 894.8 L108.8 898.4 L111.6 923.7 L113.7 913.6 L116.1 912.8 L118.6 905.4 L120.7 939.8 L123 962.3 L125.1 956.5 L127.6 955.3 L130 946.6 L132.5 951.2 L134.9 966.8 L137.1 946 L139.4 952.4 L141.7 941.1 L143.9 937.7 L146.4 920.5 L148.8 914.9 L151.3 910.3 L153.8 898.1 L155.9 916.9 L158.3 909.5 L160.6 902.2 L163.1 884.2 L165.2 877.3 L167.7 873.9 L170.1 869.9 L172.6 859.6 L175 846.5 L177.1 918.2 L179.1 898.9 L181.6 913.3 L184 941.4 L186.5 946 L188.9 939.8 L191.4 919.3 L193.8 940.1 L196.3 943.4 L198.7 939.4 L200.9 934.9 L203.3 920.1 L205.6 915.6 L207.9 929.1 L210.2 948.8 L212.6 937.8 L214.9 949.3 L217.2 974.1 L219.5 955.8 L221.8 983.1 L224.1 976.6 L226.5 957.4 L229 960.2 L231.3 955.8 L233.6 959.1 L235.9 964.6 L238.2 973.8 L240.4 975.3 L242.9 972.2 L245.4 972.8 L247.6 981 L249.9 979.9 L252.3 980.4 L254.7 976.8 L256.8 961.2 L259.3 951.7 L261.8 946.5 L264.2 939.1 L266.7 934.7 L269 913.5 L271.4 928.5 L273.7 916.2 L276 916.2 L278.4 921.2 L280.9 943.2 L283 935.1 L285.5 941.6 L287.8 958 L290.1 982.5 L292.3 972.7 L294.8 970.7 L297.2 974.3 L299.5 970.7 L301.7 949.4 L304.1 954.7 L306.4 975.1 L309 975.9 L311.3 963.7 L313.6 972.7 L316.1 973 L318.3 963.2 L320.8 971.4 L323.1 984.9 L325.4 992 L327.8 987.4 L330.1 986.1 L332.4 979.2 L334.9 951.1 L337.2 942.9 L339.6 944.9 L342.1 945.7 L344.4 958 L346.6 949.4 L349.1 953.9 L351.4 958 L353.8 969.1 L356.1 965.3 L358.4 951.4 L360.7 953.9 L363.2 954.7 L365.5 957.1 L367.9 960.4 L370.2 965.3 L372.7 967.4 L374.9 957.6 L377.2 966.1 L379.5 979.2 L381.8 973 L384.1 993.9 L386.6 1033.2 L388.8 1035.7 L391.3 1043.8 L393.6 1033.2 L396 1031.1 L398.3 1035.7 L400.6 1016.5 L403.1 1014.4 L405.4 1010 L407.7 1015.2 L410.1 1017.7 L412.4 1018.5 L414.9 1029.9 L417.1 998.8 L419.4 1000.2 L421.9 971.5 L424.2 971.5 L426.6 987.7 L428.9 984.9 L431.4 985.8 L433.7 980 L436 990.7 L438.4 999.7 L440.7 991.5 L443 998 L445.4 997.2 L447.7 973.5 L450.2 975.6 L452.5 985.8 L454.8 1012.8 L457.2 1014.4 L459.5 939.1 L461.8 920.3 L464.3 911.3 L466.5 928.5 L469 921.2 L471.3 934.7 L473.6 934.7 L476 931.5 L478.3 929.3 L480 935.9 L482.9 926.1 L485.4 931.5 L487.9 931 L490.1 940 L492.4 964.5 L494.7 961.6 L497.2 949 L499.5 967 L501.8 961.2 L504 963.7 L506.5 971 L508.8 980 L511.1 978.4 L513.5 976.8 L515.8 993.9 L518.1 996.1 L520.6 998.4 L522.9 1016.8 L525.3 1029.1 L527.6 1024.7 L530.1 1038.1 L532.3 1018.5 L534.6 1015.5 L536.9 988.7 L539.2 993.1 L541.7 971 L544 980.9 L546.2 987.4 L548.7 992 L551 992.6 L553.3 997.7 L555.7 982.8 L558 971.9 L560.3 973 L562.8 972.3 L565.1 982.8 L567.5 989.9 L569.8 991 L572.3 992 L574.5 985.4 L576.8 997.2 L579.3 992 L581.6 1003.8 L584 1020.1 L586.3 962.9 L588.6 971.9 L591.1 969.1 L593.4 971.9 L595.8 946.2 L598.1 960.4 L600.4 963.7 L602.8 967 L605.1 967 L607.6 963.7 L609.9 959.3 L612.3 952.2 L614.6 965.3 L616.9 968.6 L619.2 968.1 L621.7 988.2 L623.9 952.7 L626.4 951.7 L628.7 951.4 L631 925.2 L633.4 903.7 L635.7 914.6 L638 934.2 L640.5 914.6 L642.8 928.2 L645.2 921.2 L647.5 926.9 L649.8 899.1 L652.2 899.1 L654.5 906.9 L656.8 899.9 L659.3 899.1 L661.6 916.2 L664 922 L666.3 917.1 L668.6 922 L671 944.5 L673.3 941.9 L675.8 949.8 L678.1 935.1 L680.4 916.7 L682.8 897.4 L685.1 905.6 L687.4 898.3 L689.9 911.8 L692.1 910.2 L694.6 913.8 L696.9 917.9 L699.2 928.8 L701.6 906.9 L703.9 902 L706.4 899.9 L708.7 896.3 L711 885.7 L713.4 914.6 L715.7 898.7 L718.2 895.5 L720 905.6 L723.3 898.7 L725.4 933.1 L727.7 933.1 L730 948.6 L732.4 925.2 L734.7 956 L737.2 955.5 L739.5 951.1 L741.8 952.7 L744.2 936.7 L746.5 954.7 L748.8 973.5 L751.1 992.6 L753.4 989.9 L755.8 993.6 L758.1 1000 L760.4 1000.2 L762.9 975.1 L765.1 982.2 L767.4 982.2 L769.9 962.9 L772.2 958.3 L774.6 972.7 L776.9 1003.8 L779.2 1007.4 L781.7 1008.7 L784 1004.6 L786.2 1055.8 L788.7 1025 L791 1031.6 L793.4 1024.7 L795.7 1029.1 L798 1017.7 L800.3 1013.6 L802.8 987.7 L805.1 987.1 L807.5 987.1 L809.8 997.2 L812.1 971.9 L814.5 963.7 L816.8 966.1 L819.1 964.2 L821.6 975.9 L823.9 980 L826.3 989.9 L828.6 969.4 L830.9 968.6 L833.4 959.6 L835.6 954.7 L837.9 957.1 L840.4 952.2 L842.7 957.1 L845.1 934.7 L847.4 941.6 L849.7 935.4 L852.2 939.6 L854.5 958 L856.7 957.6 L859.2 956.6 L861.5 958.3 L863.8 957.6 L866.2 971.9 L868.5 945.2 L870.8 949.8 L873.3 939.1 L875.6 947.3 L877.8 962 L880.3 961.6 L882.6 946.5 L884.9 931 L887.3 929.8 L889.6 928.2 L891.9 921.2 L894.4 917.4 L896.7 921.2 L898.9 884 L901.4 898.3 L903.7 892.5 L906.1 887.9 L908.4 893.3 L910.9 895.5 L913.2 891.2 L915.5 887.9 L917.9 866 L920.4 881.9 L922.7 899.1 L925.1 942.4 L927.4 949 L929.7 939.6 L932.1 923.6 L934.4 910.5 L936.9 932.6 L939.2 930.1 L941.6 921.6 L943.9 920 L946.2 918.4 L948.7 935.1 L951 952.7 L953.2 948.1 L955.7 947.7 L958 968.1 L960 958.8 L962.6 961.6 L964.9 943.2 L967.4 931.5 L969.7 939.6 L972.1 930.1 L974.4 943.6 L976.7 918.4 L979.1 946.5 L981.4 941.6 L983.9 938 L986.2 944.9 L988.6 942.4 L990.9 940 L993.4 938.8 L995.7 938.7 L998.1 933.7 L1000.4 966.5 L1002.7 956.3 L1005.1 955.5 L1007.4 962.9 L1009.9 956.6 L1012.2 952.2 L1014.5 956.6 L1016.9 961.2 L1019.2 965.3 L1021.7 961.6 L1024 966.5 L1026.2 940.3 L1028.5 944.9 L1030.8 966.1 L1033.3 969.4 L1035.6 974.6 L1037.9 982.8 L1040.3 974 L1042.6 968.1 L1044.9 971.4 L1047.3 962.5 L1049.6 973.5 L1052.1 975.6 L1054.4 968.1 L1056.8 974.3 L1059.1 949.4 L1061.4 959.3 L1063.9 943.2 L1066.2 959.9 L1068.6 956.3 L1070.9 959.9 L1073.2 954.7 L1075.6 959.9 L1077.9 958.3 L1080.4 964.5 L1082.7 970.7 L1085.1 967.8 L1087.4 964.8 L1089.9 960.4 L1092.2 967.8 L1094.5 940 L1096.9 926.1 L1099.2 920.7 L1101.5 930.1 L1103.9 914.6 L1106.2 899.1 L1108.5 861.1 L1110.8 873.7 L1113.3 870 L1115.6 869.3 L1117.8 863.9 L1120.3 852.5 L1122.6 912.2 L1124.9 906.4 L1127.2 908.9 L1129.6 892.5 L1131.9 892.2 L1134.4 904 L1136.7 898.3 L1139.1 904.3 L1141.4 896.6 L1143.7 931.8 L1146.1 923.6 L1148.4 915.8 L1150.7 916.7 L1153.2 913.8 L1155.5 911.3 L1157.9 896.6 L1160.4 921.2 L1162.8 933.7 L1165.1 928.5 L1167.4 949 L1169.9 941.9 L1172.1 942.9 L1174.4 938 L1176.9 963.2 L1179.2 954.7 L1181.5 962 L1183.9 950.6 L1186.2 954.7 L1188.7 941.3 L1191.3 946 L1193.4 929.6 L1195.7 961 L1197.9 1007.7 L1200.1 988 L1202.4 999 L1204.9 993.4 L1207.3 987.5 L1209.6 996.7 L1211.9 991.3 L1214.4 984.3 L1216.7 981.5 L1219.1 978.7 L1221.4 984.3 L1223.7 964.3 L1226 958.6 L1228.4 949.6 L1230.7 950.9 L1233.2 951.2 L1235.5 942.7 L1237.8 952.9 L1240.2 981.5 L1242.5 972.5 L1245 988.5 L1247.2 957.4 L1249.5 961 L1252 959.1 L1254.4 956.1 L1256.7 961.4 L1259 952 L1261.5 955.8 L1263.8 965.9 L1266.2 969.2 L1268.5 970.5 L1271 961.4 L1273.3 951.2 L1275.5 966.8 L1278 960.7 L1280.3 942.2 L1282.6 934.1 L1285 921 L1287.3 916.6 L1289.8 908.7 L1292.1 919.3 L1294.5 919.3 L1296.8 914.4 L1299.1 932.9 L1301.6 929.6 L1303.8 920.1 L1306.1 907.1 L1308.6 898.1 L1310.9 870.3 L1313.3 866.5 L1315.6 871.4 L1317.9 867 L1320.4 874.7 L1322.7 874.3 L1325.1 857.7 L1327.4 894.8 L1329.9 888.7 L1332.1 885 L1334.4 879.6 L1336.7 882.2 L1339 901.3 L1341.5 885.8 L1343.8 882.9 L1346 857.7 L1348.3 858.3 L1350.6 903.5 L1353.1 888.7 L1355.4 895.9 L1357.7 897.2 L1360.1 889.1 L1362.4 878.9 L1364.9 878.4 L1367.1 892 L1369.6 899.2 L1371.9 884.2 L1374.3 870.3 L1376.6 869.4 L1378.9 869.1 L1381.4 859.3 L1383.8 858.8 L1386.3 869.8" fill="none" stroke="#881498" stroke-width="1.5" stroke-linejoin="round" stroke-linecap="round"/>
<line x1="0" y1="1127.5" x2="1462.5" y2="1127.5" stroke="#2196f3" stroke-width="1"/>
<path d="M0.5 1205.5V1203.8M50.5 1205.5V1204.3M52.5 1205.5V1203.9M57.5 1205.5V1203.7M59.5 1205.5V1203M61.5 1205.5V1202.1M64.5 1205.5V1199.2M66.5 1205.5V1195.7M68.5 1205.5V1194.5M71.5 1205.5V1189.6M73.5 1205.5V1188M76.5 1205.5V1187M85.5 1205.5V1198M101.5 1205.5V1205M104.5 1205.5V1203.2M106.5 1205.5V1203.1M151.5 1205.5V1201.6M153.5 1205.5V1199.6M155.5 1205.5V1199.1M158.5 1205.5V1198.4M160.5 1205.5V1197.4M163.5 1205.5V1193.1M165.5 1205.5V1191M167.5 1205.5V1189.8M170.5 1205.5V1187.4M172.5 1205.5V1184.8M174.5 1205.5V1179.8M261.5 1205.5V1204.2M264.5 1205.5V1199.7M266.5 1205.5V1197M268.5 1205.5V1194.5M271.5 1205.5V1190.4M273.5 1205.5V1189.1M275.5 1205.5V1188.6M337.5 1205.5V1202.2M339.5 1205.5V1200.3M341.5 1205.5V1199.5M346.5 1205.5V1199.5M419.5 1205.5V1203.5M421.5 1205.5V1201.4M424.5 1205.5V1199.7M431.5 1205.5V1199.6M433.5 1205.5V1199.6M445.5 1205.5V1202.5M447.5 1205.5V1202M449.5 1205.5V1201.4M459.5 1205.5V1202.8M461.5 1205.5V1197.5M464.5 1205.5V1190.4M466.5 1205.5V1189M543.5 1205.5V1205M546.5 1205.5V1204.5M553.5 1205.5V1204.5M555.5 1205.5V1204M558.5 1205.5V1202.2M560.5 1205.5V1201.5M562.5 1205.5V1201.2M588.5 1205.5V1204.3M590.5 1205.5V1203.5M593.5 1205.5V1202.6M595.5 1205.5V1201.2M598.5 1205.5V1200.6M609.5 1205.5V1201.9M612.5 1205.5V1201.5M623.5 1205.5V1204.4M626.5 1205.5V1203.3M628.5 1205.5V1202.7M630.5 1205.5V1201.9M633.5 1205.5V1198.7M635.5 1205.5V1196.5M640.5 1205.5V1196.8M649.5 1205.5V1197.4M652.5 1205.5V1196M682.5 1205.5V1205M685.5 1205.5V1202.5M687.5 1205.5V1201.7M689.5 1205.5V1201.4M703.5 1205.5V1204.8M706.5 1205.5V1203.7M708.5 1205.5V1202.9M710.5 1205.5V1202.2M715.5 1205.5V1202M717.5 1205.5V1201.4M807.5 1205.5V1204.7M809.5 1205.5V1200.3M812.5 1205.5V1193.5M814.5 1205.5V1191.5M816.5 1205.5V1190.7M819.5 1205.5V1190.7M828.5 1205.5V1196.1M830.5 1205.5V1195.9M833.5 1205.5V1194.3M835.5 1205.5V1193.3M837.5 1205.5V1193M844.5 1205.5V1192.7M847.5 1205.5V1191.2M849.5 1205.5V1191.1M868.5 1205.5V1203.2M870.5 1205.5V1202.7M873.5 1205.5V1202M882.5 1205.5V1204.4M884.5 1205.5V1203.3M887.5 1205.5V1201.7M889.5 1205.5V1201M891.5 1205.5V1200.4M894.5 1205.5V1199.3M896.5 1205.5V1198.9M899.5 1205.5V1195.3M901.5 1205.5V1193.6M903.5 1205.5V1193.4M906.5 1205.5V1192.6M917.5 1205.5V1196.8M920.5 1205.5V1194.7M976.5 1205.5V1204M1061.5 1205.5V1204.4M1063.5 1205.5V1203.8M1066.5 1205.5V1203.7M1094.5 1205.5V1204.5M1096.5 1205.5V1203.4M1098.5 1205.5V1202.3M1101.5 1205.5V1201.5M1103.5 1205.5V1201.2M1105.5 1205.5V1200.4M1108.5 1205.5V1194.9M1110.5 1205.5V1192.7M1113.5 1205.5V1190.4M1115.5 1205.5V1190.3M1117.5 1205.5V1190.2M1120.5 1205.5V1188.8M1129.5 1205.5V1197.3M1225.5 1205.5V1203.9M1228.5 1205.5V1200.2M1230.5 1205.5V1199.2M1232.5 1205.5V1198.3M1235.5 1205.5V1198.1M1247.5 1205.5V1204.2M1249.5 1205.5V1203.6M1251.5 1205.5V1203.4M1254.5 1205.5V1203.2M1256.5 1205.5V1203.1M1258.5 1205.5V1202.8M1261.5 1205.5V1202.5M1270.5 1205.5V1204.7M1272.5 1205.5V1204.2M1275.5 1205.5V1204.1M1279.5 1205.5V1204.1M1282.5 1205.5V1203M1284.5 1205.5V1201.7M1287.5 1205.5V1199.1M1289.5 1205.5V1197.8M1291.5 1205.5V1197.7M1305.5 1205.5V1201.1M1308.5 1205.5V1199.6M1310.5 1205.5V1196.6M1312.5 1205.5V1193.7M1315.5 1205.5V1191.4M1317.5 1205.5V1191.2M1324.5 1205.5V1192.4M1345.5 1205.5V1197.3M1348.5 1205.5V1192M1362.5 1205.5V1198.7M1364.5 1205.5V1197.4M1374.5 1205.5V1197.3M1376.5 1205.5V1195.4M1378.5 1205.5V1195.1M1381.5 1205.5V1191.6M1383.5 1205.5V1191.1" stroke="#26a69a" stroke-width="1" fill="none"/>
<path d="M3.5 1205.5V1205M54.5 1205.5V1203.9M78.5 1205.5V1189.1M80.5 1205.5V1193.3M83.5 1205.5V1198.8M87.5 1205.5V1198.4M90.5 1205.5V1200.5M92.5 1205.5V1203M94.5 1205.5V1205M108.5 1205.5V1203.8M177.5 1205.5V1185.1M179.5 1205.5V1185.3M181.5 1205.5V1188.8M184.5 1205.5V1199.3M278.5 1205.5V1189M280.5 1205.5V1192.8M282.5 1205.5V1195.5M285.5 1205.5V1198.7M287.5 1205.5V1202.6M344.5 1205.5V1199.7M348.5 1205.5V1199.6M351.5 1205.5V1200.7M353.5 1205.5V1202.3M355.5 1205.5V1203.1M358.5 1205.5V1203.2M360.5 1205.5V1203.3M362.5 1205.5V1203.4M365.5 1205.5V1203.8M367.5 1205.5V1204.3M369.5 1205.5V1204.9M372.5 1205.5V1205M426.5 1205.5V1199.8M428.5 1205.5V1199.9M435.5 1205.5V1200.3M438.5 1205.5V1201.5M440.5 1205.5V1202.2M442.5 1205.5V1202.7M452.5 1205.5V1201.6M454.5 1205.5V1203.9M468.5 1205.5V1189.5M471.5 1205.5V1191.7M473.5 1205.5V1193.6M475.5 1205.5V1195M478.5 1205.5V1196.6M480.5 1205.5V1197.7M482.5 1205.5V1198.7M485.5 1205.5V1199.9M487.5 1205.5V1201M489.5 1205.5V1202.2M492.5 1205.5V1205M548.5 1205.5V1204.7M551.5 1205.5V1204.8M565.5 1205.5V1201.5M567.5 1205.5V1202.2M569.5 1205.5V1202.8M572.5 1205.5V1203.2M574.5 1205.5V1203.4M576.5 1205.5V1203.6M579.5 1205.5V1204.6M600.5 1205.5V1201M602.5 1205.5V1201.5M605.5 1205.5V1201.9M607.5 1205.5V1201.9M614.5 1205.5V1202.1M616.5 1205.5V1202.9M619.5 1205.5V1204.1M621.5 1205.5V1205M638.5 1205.5V1196.9M642.5 1205.5V1197.1M645.5 1205.5V1197.9M647.5 1205.5V1198.7M654.5 1205.5V1196M656.5 1205.5V1196.5M659.5 1205.5V1197M661.5 1205.5V1198.6M663.5 1205.5V1200.6M666.5 1205.5V1202.9M668.5 1205.5V1204M670.5 1205.5V1205M692.5 1205.5V1201.8M694.5 1205.5V1202.8M696.5 1205.5V1204.2M713.5 1205.5V1202.4M720.5 1205.5V1202M722.5 1205.5V1202.2M725.5 1205.5V1204.5M821.5 1205.5V1192M823.5 1205.5V1193.4M826.5 1205.5V1196.6M840.5 1205.5V1193M842.5 1205.5V1193.3M852.5 1205.5V1192.4M854.5 1205.5V1195.2M856.5 1205.5V1197.6M859.5 1205.5V1199.6M861.5 1205.5V1200.8M863.5 1205.5V1202.3M866.5 1205.5V1203.8M875.5 1205.5V1202M877.5 1205.5V1203.4M880.5 1205.5V1204.6M908.5 1205.5V1193.5M910.5 1205.5V1194.8M913.5 1205.5V1196.8M915.5 1205.5V1197.9M922.5 1205.5V1195.7M924.5 1205.5V1200.1M978.5 1205.5V1204.3M981.5 1205.5V1204.7M983.5 1205.5V1204.8M986.5 1205.5V1205M1068.5 1205.5V1203.9M1070.5 1205.5V1204M1073.5 1205.5V1204.1M1075.5 1205.5V1204.2M1077.5 1205.5V1204.4M1080.5 1205.5V1205M1082.5 1205.5V1205M1122.5 1205.5V1191.6M1124.5 1205.5V1194.7M1127.5 1205.5V1197.3M1131.5 1205.5V1197.7M1134.5 1205.5V1199.2M1136.5 1205.5V1200.4M1138.5 1205.5V1201.4M1141.5 1205.5V1202.8M1143.5 1205.5V1205M1237.5 1205.5V1199.1M1240.5 1205.5V1202M1242.5 1205.5V1203.8M1244.5 1205.5V1205M1263.5 1205.5V1203.3M1265.5 1205.5V1204.1M1268.5 1205.5V1204.8M1277.5 1205.5V1204.2M1294.5 1205.5V1197.9M1296.5 1205.5V1198.6M1298.5 1205.5V1200M1301.5 1205.5V1201.3M1303.5 1205.5V1201.4M1319.5 1205.5V1191.8M1322.5 1205.5V1192.4M1327.5 1205.5V1194.6M1329.5 1205.5V1196.3M1331.5 1205.5V1197.4M1334.5 1205.5V1198.1M1336.5 1205.5V1199M1338.5 1205.5V1201.2M1341.5 1205.5V1202M1343.5 1205.5V1202.2M1350.5 1205.5V1194.3M1352.5 1205.5V1194.8M1355.5 1205.5V1196.7M1357.5 1205.5V1199M1359.5 1205.5V1200.1M1366.5 1205.5V1198.5M1369.5 1205.5V1201.9M1371.5 1205.5V1202.1M1385.5 1205.5V1192.5" stroke="#b2dfdb" stroke-width="1" fill="none"/>
<path d="M12.5 1205.5V1207M14.5 1205.5V1206.9M21.5 1205.5V1207.1M24.5 1205.5V1206.7M40.5 1205.5V1209.7M43.5 1205.5V1208.9M45.5 1205.5V1208.1M47.5 1205.5V1206.4M130.5 1205.5V1218.1M137.5 1205.5V1217.2M139.5 1205.5V1215.8M141.5 1205.5V1213.9M144.5 1205.5V1210.9M146.5 1205.5V1208.2M148.5 1205.5V1206M191.5 1205.5V1208.2M200.5 1205.5V1213.7M203.5 1205.5V1208.9M205.5 1205.5V1206M226.5 1205.5V1227.9M228.5 1205.5V1224.9M231.5 1205.5V1220.8M233.5 1205.5V1218.8M235.5 1205.5V1218M242.5 1205.5V1218.7M245.5 1205.5V1217.8M247.5 1205.5V1217.1M252.5 1205.5V1216.8M254.5 1205.5V1215.1M257.5 1205.5V1210.6M259.5 1205.5V1207.2M299.5 1205.5V1215.5M301.5 1205.5V1213.2M304.5 1205.5V1211.9M311.5 1205.5V1212M313.5 1205.5V1211.8M315.5 1205.5V1211.3M318.5 1205.5V1209.9M320.5 1205.5V1209.3M329.5 1205.5V1212.4M332.5 1205.5V1210.9M334.5 1205.5V1207.2M395.5 1205.5V1222.3M398.5 1205.5V1221M400.5 1205.5V1218.5M402.5 1205.5V1215.9M405.5 1205.5V1213M407.5 1205.5V1211.4M409.5 1205.5V1210M412.5 1205.5V1208.7M414.5 1205.5V1208.4M416.5 1205.5V1207.3M513.5 1205.5V1213.5M532.5 1205.5V1218M534.5 1205.5V1216.7M536.5 1205.5V1214M539.5 1205.5V1210M541.5 1205.5V1206.8M586.5 1205.5V1205.9M678.5 1205.5V1209.2M680.5 1205.5V1207.9M701.5 1205.5V1206M741.5 1205.5V1213M743.5 1205.5V1212.1M760.5 1205.5V1219.4M762.5 1205.5V1217.4M765.5 1205.5V1214.9M767.5 1205.5V1213.5M769.5 1205.5V1210.7M772.5 1205.5V1208.1M781.5 1205.5V1213.4M793.5 1205.5V1233.8M795.5 1205.5V1232M797.5 1205.5V1229.1M800.5 1205.5V1224.9M802.5 1205.5V1217.6M804.5 1205.5V1211.8M931.5 1205.5V1209.8M934.5 1205.5V1206.8M941.5 1205.5V1207.5M943.5 1205.5V1206.6M946.5 1205.5V1206M962.5 1205.5V1216.5M964.5 1205.5V1215M967.5 1205.5V1211.2M969.5 1205.5V1209.5M971.5 1205.5V1208.4M974.5 1205.5V1206.5M995.5 1205.5V1206.3M1009.5 1205.5V1211.2M1011.5 1205.5V1210.8M1014.5 1205.5V1210.4M1016.5 1205.5V1210.4M1023.5 1205.5V1210.2M1026.5 1205.5V1207.4M1028.5 1205.5V1206.2M1030.5 1205.5V1206M1042.5 1205.5V1209.3M1044.5 1205.5V1208.7M1047.5 1205.5V1208.3M1049.5 1205.5V1208.1M1051.5 1205.5V1207.8M1054.5 1205.5V1207.3M1056.5 1205.5V1206.9M1058.5 1205.5V1206M1089.5 1205.5V1206M1091.5 1205.5V1206M1155.5 1205.5V1208.6M1157.5 1205.5V1207.2M1183.5 1205.5V1214.5M1185.5 1205.5V1213.8M1188.5 1205.5V1211.8M1190.5 1205.5V1210.3M1192.5 1205.5V1208.9M1195.5 1205.5V1208.4M1207.5 1205.5V1219M1209.5 1205.5V1218.4M1211.5 1205.5V1217.4M1214.5 1205.5V1215.2M1216.5 1205.5V1213.2M1218.5 1205.5V1211.3M1221.5 1205.5V1209.4M1223.5 1205.5V1207" stroke="#ffcdd2" stroke-width="1" fill="none"/>
<path d="M5.5 1205.5V1206.3M7.5 1205.5V1206.7M10.5 1205.5V1207M17.5 1205.5V1207.2M19.5 1205.5V1207.3M26.5 1205.5V1206.7M28.5 1205.5V1207.9M31.5 1205.5V1209.4M33.5 1205.5V1209.7M36.5 1205.5V1210.1M38.5 1205.5V1210.1M97.5 1205.5V1206.7M99.5 1205.5V1207.1M111.5 1205.5V1207.6M113.5 1205.5V1208.5M115.5 1205.5V1208.9M118.5 1205.5V1209.2M120.5 1205.5V1211.4M123.5 1205.5V1216.1M125.5 1205.5V1217.9M127.5 1205.5V1218.5M132.5 1205.5V1218.4M134.5 1205.5V1218.5M186.5 1205.5V1206M188.5 1205.5V1210.7M193.5 1205.5V1211.3M195.5 1205.5V1213.4M198.5 1205.5V1214.6M207.5 1205.5V1206.1M210.5 1205.5V1210.4M212.5 1205.5V1211.9M214.5 1205.5V1215.2M217.5 1205.5V1220.3M219.5 1205.5V1222.1M221.5 1205.5V1226.1M224.5 1205.5V1231.9M238.5 1205.5V1219.2M240.5 1205.5V1219.6M250.5 1205.5V1217.4M290.5 1205.5V1209.6M292.5 1205.5V1212.6M294.5 1205.5V1214.6M297.5 1205.5V1216.3M306.5 1205.5V1212.9M308.5 1205.5V1213M322.5 1205.5V1210.2M325.5 1205.5V1212.1M327.5 1205.5V1212.5M374.5 1205.5V1206M377.5 1205.5V1206M379.5 1205.5V1206.2M381.5 1205.5V1206.6M384.5 1205.5V1209M386.5 1205.5V1212.8M388.5 1205.5V1217.1M391.5 1205.5V1222.4M393.5 1205.5V1223M456.5 1205.5V1207.2M494.5 1205.5V1207.3M496.5 1205.5V1208.3M499.5 1205.5V1209.6M501.5 1205.5V1210.3M503.5 1205.5V1210.7M506.5 1205.5V1212.2M508.5 1205.5V1212.9M511.5 1205.5V1213.6M515.5 1205.5V1213.5M518.5 1205.5V1213.9M520.5 1205.5V1214M522.5 1205.5V1215.5M525.5 1205.5V1217.9M527.5 1205.5V1218.1M529.5 1205.5V1218.4M581.5 1205.5V1206M583.5 1205.5V1207.3M673.5 1205.5V1207.8M675.5 1205.5V1209.3M699.5 1205.5V1206.1M727.5 1205.5V1207.5M729.5 1205.5V1209.9M732.5 1205.5V1210.3M734.5 1205.5V1211.6M736.5 1205.5V1212.3M739.5 1205.5V1213.1M746.5 1205.5V1212.1M748.5 1205.5V1213.4M750.5 1205.5V1215.8M753.5 1205.5V1218.5M755.5 1205.5V1219.3M757.5 1205.5V1219.7M774.5 1205.5V1208.2M776.5 1205.5V1210.8M779.5 1205.5V1213.9M783.5 1205.5V1213.6M786.5 1205.5V1229.7M788.5 1205.5V1232.8M790.5 1205.5V1233.8M927.5 1205.5V1208.1M929.5 1205.5V1209.9M936.5 1205.5V1207.3M939.5 1205.5V1208.1M948.5 1205.5V1206.8M950.5 1205.5V1208.6M953.5 1205.5V1211M955.5 1205.5V1212.2M957.5 1205.5V1214.3M960.5 1205.5V1216.6M988.5 1205.5V1206.2M990.5 1205.5V1206.4M993.5 1205.5V1206.5M997.5 1205.5V1206.4M1000.5 1205.5V1209M1002.5 1205.5V1210.3M1004.5 1205.5V1211M1007.5 1205.5V1211.6M1018.5 1205.5V1210.4M1021.5 1205.5V1210.5M1033.5 1205.5V1207.5M1035.5 1205.5V1208.6M1037.5 1205.5V1209.4M1040.5 1205.5V1209.6M1084.5 1205.5V1206M1087.5 1205.5V1206M1145.5 1205.5V1207.4M1148.5 1205.5V1208.1M1150.5 1205.5V1208.3M1153.5 1205.5V1208.7M1160.5 1205.5V1207.5M1162.5 1205.5V1208.8M1164.5 1205.5V1209.9M1167.5 1205.5V1211.8M1169.5 1205.5V1212.4M1171.5 1205.5V1212.7M1174.5 1205.5V1212.8M1176.5 1205.5V1213.4M1178.5 1205.5V1214.2M1181.5 1205.5V1214.8M1197.5 1205.5V1211.9M1200.5 1205.5V1217.6M1202.5 1205.5V1219.3M1204.5 1205.5V1219.6" stroke="#ef5350" stroke-width="1" fill="none"/>
<path d="M0.5 1180.8 L3.5 1182.4 L5.5 1183.7 L7.5 1184.3 L10.5 1184.9 L12.5 1185.1 L14.5 1185.2 L17.5 1185.8 L19.5 1186.1 L21.5 1186.1 L24.5 1185.9 L26.5 1186.2 L28.5 1187.9 L31.5 1190.5 L33.5 1191.9 L36.5 1193.7 L38.5 1194.7 L40.5 1195.1 L43.5 1195.2 L45.5 1195 L47.5 1193.6 L50.5 1191.4 L52.5 1190.5 L54.5 1190.1 L57.5 1189.2 L59.5 1187.9 L61.5 1186.2 L64.5 1181.8 L66.5 1176.1 L68.5 1172.1 L71.5 1162.5 L73.5 1157.2 L76.5 1151.3 L78.5 1150.1 L80.5 1151.8 L83.5 1155.2 L85.5 1152.9 L87.5 1152 L90.5 1152.7 L92.5 1154.8 L94.5 1157 L97.5 1158.6 L99.5 1158.9 L101.5 1156.7 L104.5 1154.1 L106.5 1153.5 L108.5 1153.9 L111.5 1158 L113.5 1159.4 L115.5 1160.3 L118.5 1161.8 L120.5 1165.5 L123.5 1173.3 L125.5 1178.1 L127.5 1181.5 L130.5 1184.7 L132.5 1187.9 L134.5 1190.8 L137.5 1192.7 L139.5 1193.4 L141.5 1193.3 L144.5 1192.2 L146.5 1190.4 L148.5 1187.7 L151.5 1182.8 L153.5 1179.7 L155.5 1178 L158.5 1175.5 L160.5 1172.9 L163.5 1165.6 L165.5 1160.4 L167.5 1155.7 L170.5 1147.9 L172.5 1140.9 L174.5 1130.7 L177.5 1129.5 L179.5 1125.1 L181.5 1124.9 L184.5 1133.3 L186.5 1139.9 L188.5 1145.4 L191.5 1144.1 L193.5 1148.7 L195.5 1152.7 L198.5 1156.3 L200.5 1156.9 L203.5 1152.9 L205.5 1150.4 L207.5 1151.1 L210.5 1156.6 L212.5 1159.3 L214.5 1164.7 L217.5 1174.3 L219.5 1180.3 L221.5 1189 L224.5 1202.5 L226.5 1203.6 L228.5 1204.7 L231.5 1204.7 L233.5 1205.5 L235.5 1207.4 L238.5 1212.5 L240.5 1215.9 L242.5 1218 L245.5 1221 L247.5 1223.4 L250.5 1227.2 L252.5 1229 L254.5 1229.3 L257.5 1225.9 L259.5 1222.3 L261.5 1218.2 L264.5 1211.1 L266.5 1206 L268.5 1200.5 L271.5 1191.6 L273.5 1186.1 L275.5 1181.6 L278.5 1177.6 L280.5 1178.7 L282.5 1179.1 L285.5 1180.4 L287.5 1183.9 L290.5 1192.3 L292.5 1197.2 L294.5 1201.5 L297.5 1206.2 L299.5 1207.6 L301.5 1207 L304.5 1208 L306.5 1210.8 L308.5 1212.5 L311.5 1213.6 L313.5 1214.8 L315.5 1215.7 L318.5 1215.7 L320.5 1216.1 L322.5 1218.2 L325.5 1222.1 L327.5 1224.4 L329.5 1225.9 L332.5 1225.9 L334.5 1222.3 L337.5 1216.2 L339.5 1213.1 L341.5 1210.9 L344.5 1209.4 L346.5 1208.1 L348.5 1207.2 L351.5 1206.9 L353.5 1207.7 L355.5 1207.9 L358.5 1207.2 L360.5 1206.8 L362.5 1206.5 L365.5 1206.3 L367.5 1206.6 L369.5 1207.1 L372.5 1207.5 L374.5 1207.6 L377.5 1208.1 L379.5 1208.6 L381.5 1209.5 L384.5 1213.7 L386.5 1219.8 L388.5 1227.2 L391.5 1237.1 L393.5 1241.5 L395.5 1244.6 L398.5 1248.1 L400.5 1248.5 L402.5 1248.1 L405.5 1247.2 L407.5 1246.8 L409.5 1246.4 L412.5 1246.2 L414.5 1246.6 L416.5 1245.6 L419.5 1240.9 L421.5 1237.7 L424.5 1234.3 L426.5 1233.1 L428.5 1231.9 L431.5 1229.9 L433.5 1228.6 L435.5 1228.2 L438.5 1228.1 L440.5 1228.1 L442.5 1227.8 L445.5 1226.8 L447.5 1225.5 L449.5 1224.3 L452.5 1223.9 L454.5 1226 L456.5 1228.9 L459.5 1222.6 L461.5 1214.8 L464.5 1203.3 L466.5 1198.5 L468.5 1195.5 L471.5 1193.1 L473.5 1191.9 L475.5 1190.6 L478.5 1189.3 L480.5 1188.5 L482.5 1187.8 L485.5 1187.2 L487.5 1187.4 L489.5 1188.2 L492.5 1191.6 L494.5 1194 L496.5 1195.8 L499.5 1198.4 L501.5 1200.2 L503.5 1201.8 L506.5 1205 L508.5 1207.2 L511.5 1210 L513.5 1211.6 L515.5 1213.3 L518.5 1216.4 L520.5 1218.6 L522.5 1222.4 L525.5 1228.3 L527.5 1231.5 L529.5 1235.1 L532.5 1238.3 L534.5 1239.2 L536.5 1238.1 L539.5 1235.4 L541.5 1232.7 L543.5 1231.1 L546.5 1230.5 L548.5 1230.6 L551.5 1230.3 L553.5 1229.8 L555.5 1228.7 L558.5 1226 L560.5 1224.5 L562.5 1223.4 L565.5 1222.7 L567.5 1222.8 L569.5 1222.9 L572.5 1222.5 L574.5 1222.2 L576.5 1222.1 L579.5 1222.6 L581.5 1223.6 L583.5 1225.3 L586.5 1223.8 L588.5 1221.9 L590.5 1220.7 L593.5 1218.9 L595.5 1216.6 L598.5 1214.6 L600.5 1213.9 L602.5 1213.4 L605.5 1212.7 L607.5 1212 L609.5 1211.1 L612.5 1209.8 L614.5 1209.7 L616.5 1209.8 L619.5 1210.3 L621.5 1210.9 L623.5 1210 L626.5 1208.5 L628.5 1207.4 L630.5 1205.7 L633.5 1200.7 L635.5 1197 L638.5 1195 L640.5 1193.2 L642.5 1191.7 L645.5 1190 L647.5 1189 L649.5 1185.6 L652.5 1181.2 L654.5 1179.1 L656.5 1177.5 L659.5 1175.5 L661.5 1175.5 L663.5 1176.4 L666.5 1177.9 L668.5 1178.8 L670.5 1180.3 L673.5 1183.8 L675.5 1186.4 L678.5 1187.5 L680.5 1186.5 L682.5 1183.4 L685.5 1180.1 L687.5 1178.5 L689.5 1177.4 L692.5 1176.9 L694.5 1177.4 L696.5 1178.3 L699.5 1179.8 L701.5 1178.8 L703.5 1177.6 L706.5 1175.8 L708.5 1174.5 L710.5 1173.1 L713.5 1172.5 L715.5 1171.5 L717.5 1170.3 L720.5 1169.7 L722.5 1169.6 L725.5 1171.9 L727.5 1175.3 L729.5 1178.5 L732.5 1180.4 L734.5 1183.2 L736.5 1185.6 L739.5 1188.7 L741.5 1190.2 L743.5 1190.6 L746.5 1192.6 L748.5 1195.7 L750.5 1200.5 L753.5 1207.5 L755.5 1211.8 L757.5 1215.6 L760.5 1219.6 L762.5 1220.4 L765.5 1221 L767.5 1221.5 L769.5 1219.9 L772.5 1217.9 L774.5 1218.6 L776.5 1222.5 L779.5 1227.8 L781.5 1229.2 L783.5 1231.6 L786.5 1253.2 L788.5 1262.5 L790.5 1270.7 L793.5 1279.4 L795.5 1283.8 L797.5 1286.4 L800.5 1287.3 L802.5 1282.4 L804.5 1277.9 L807.5 1270.8 L809.5 1265.4 L812.5 1255.8 L814.5 1250.8 L816.5 1246.6 L819.5 1242.3 L821.5 1240.6 L823.5 1239.3 L826.5 1239.4 L828.5 1236.7 L830.5 1234.4 L833.5 1229.6 L835.5 1226 L837.5 1222.9 L840.5 1219.1 L842.5 1216.4 L844.5 1212.9 L847.5 1207.3 L849.5 1204 L852.5 1201.5 L854.5 1202 L856.5 1202.6 L859.5 1203.2 L861.5 1203.4 L863.5 1204.2 L866.5 1205 L868.5 1203.8 L870.5 1202.7 L873.5 1201.3 L875.5 1200.8 L877.5 1201.9 L880.5 1202.7 L882.5 1202 L884.5 1200.2 L887.5 1197.4 L889.5 1195.7 L891.5 1194 L894.5 1191.1 L896.5 1189 L899.5 1182.2 L901.5 1177.6 L903.5 1174.1 L906.5 1169.2 L908.5 1167.3 L910.5 1166.1 L913.5 1164.9 L915.5 1163.9 L917.5 1160.7 L920.5 1155.6 L922.5 1154.8 L924.5 1158.1 L927.5 1166.5 L929.5 1169.3 L931.5 1170.1 L934.5 1167.7 L936.5 1168.6 L939.5 1169.9 L941.5 1169.8 L943.5 1169.2 L946.5 1169.2 L948.5 1171.1 L950.5 1174 L953.5 1178.6 L955.5 1181.4 L957.5 1185.4 L960.5 1190.4 L962.5 1193 L964.5 1193.7 L967.5 1192.1 L969.5 1191.3 L971.5 1190.8 L974.5 1189.1 L976.5 1186.4 L978.5 1186.5 L981.5 1186.8 L983.5 1186.8 L986.5 1187.6 L988.5 1188.3 L990.5 1188.7 L993.5 1188.9 L995.5 1188.8 L997.5 1189.2 L1000.5 1192.4 L1002.5 1194.6 L1004.5 1196.5 L1007.5 1198.7 L1009.5 1199.5 L1011.5 1200.1 L1014.5 1201 L1016.5 1202.1 L1018.5 1203.1 L1021.5 1204.6 L1023.5 1205.2 L1026.5 1203.4 L1028.5 1202.8 L1030.5 1203.2 L1033.5 1205.6 L1035.5 1207.5 L1037.5 1209.1 L1040.5 1210.3 L1042.5 1210.7 L1044.5 1210.8 L1047.5 1211.3 L1049.5 1211.7 L1051.5 1211.9 L1054.5 1212.1 L1056.5 1212 L1058.5 1211.1 L1061.5 1209.1 L1063.5 1208.1 L1066.5 1207.5 L1068.5 1207.3 L1070.5 1207 L1073.5 1206.8 L1075.5 1206.8 L1077.5 1206.8 L1080.5 1207.3 L1082.5 1207.6 L1084.5 1207.9 L1087.5 1208 L1089.5 1207.9 L1091.5 1207.6 L1094.5 1206.2 L1096.5 1204.6 L1098.5 1202.9 L1101.5 1200.9 L1103.5 1199.4 L1105.5 1197.2 L1108.5 1188.4 L1110.5 1183.1 L1113.5 1176.3 L1115.5 1172.7 L1117.5 1169 L1120.5 1163.1 L1122.5 1163.1 L1124.5 1163.8 L1127.5 1163.5 L1129.5 1161.6 L1131.5 1160.4 L1134.5 1160.1 L1136.5 1160.2 L1138.5 1160.3 L1141.5 1161 L1143.5 1163.6 L1145.5 1165.9 L1148.5 1167.3 L1150.5 1168.1 L1153.5 1169.3 L1155.5 1169.7 L1157.5 1168.8 L1160.5 1169.8 L1162.5 1171.9 L1164.5 1174.1 L1167.5 1177.8 L1169.5 1180.1 L1171.5 1182 L1174.5 1184.5 L1176.5 1187 L1178.5 1189.8 L1181.5 1193.2 L1183.5 1194.9 L1185.5 1196.1 L1188.5 1196.4 L1190.5 1196 L1192.5 1195.2 L1195.5 1196.2 L1197.5 1202.1 L1200.5 1212.3 L1202.5 1217.3 L1204.5 1221 L1207.5 1224.7 L1209.5 1227.1 L1211.5 1228.7 L1214.5 1229.2 L1216.5 1228.8 L1218.5 1228.2 L1221.5 1227.5 L1223.5 1225.4 L1225.5 1222 L1228.5 1217.1 L1230.5 1214.7 L1232.5 1212.5 L1235.5 1210.1 L1237.5 1209.7 L1240.5 1211.6 L1242.5 1213.1 L1244.5 1214.1 L1247.5 1213 L1249.5 1212 L1251.5 1211.4 L1254.5 1210.5 L1256.5 1209.8 L1258.5 1209 L1261.5 1208 L1263.5 1208.5 L1265.5 1209 L1268.5 1209.3 L1270.5 1209.1 L1272.5 1208.4 L1275.5 1208.1 L1277.5 1208 L1279.5 1207.5 L1282.5 1205.3 L1284.5 1203 L1287.5 1198.4 L1289.5 1195.3 L1291.5 1193.6 L1294.5 1191.7 L1296.5 1191 L1298.5 1191.1 L1301.5 1191.2 L1303.5 1190.3 L1305.5 1189.1 L1308.5 1185.7 L1310.5 1180.8 L1312.5 1175.4 L1315.5 1169.4 L1317.5 1166.4 L1319.5 1164 L1322.5 1160.7 L1324.5 1157.8 L1327.5 1156.7 L1329.5 1156.2 L1331.5 1155.3 L1334.5 1153.8 L1336.5 1153.6 L1338.5 1154.8 L1341.5 1154.5 L1343.5 1153.6 L1345.5 1146.8 L1348.5 1138.1 L1350.5 1138 L1352.5 1136.3 L1355.5 1135.4 L1357.5 1136 L1359.5 1135.5 L1362.5 1131.8 L1364.5 1128.8 L1366.5 1128.7 L1369.5 1130.9 L1371.5 1130.1 L1374.5 1122.8 L1376.5 1118.7 L1378.5 1115.9 L1381.5 1108.5 L1383.5 1104.8 L1385.5 1103.3" fill="none" stroke="#2196f3" stroke-width="1.8" stroke-linejoin="round" stroke-linecap="round"/>
<path d="M0.5 1182.6 L3.5 1182.7 L5.5 1182.9 L7.5 1183.1 L10.5 1183.4 L12.5 1183.6 L14.5 1183.8 L17.5 1184.1 L19.5 1184.3 L21.5 1184.5 L24.5 1184.7 L26.5 1185 L28.5 1185.5 L31.5 1186.6 L33.5 1187.7 L36.5 1189.1 L38.5 1190.1 L40.5 1190.9 L43.5 1191.9 L45.5 1192.4 L47.5 1192.7 L50.5 1192.5 L52.5 1192.2 L54.5 1191.7 L57.5 1191 L59.5 1190.4 L61.5 1189.7 L64.5 1188 L66.5 1185.9 L68.5 1183.1 L71.5 1178.4 L73.5 1174.8 L76.5 1169.8 L78.5 1166.5 L80.5 1164.1 L83.5 1161.9 L85.5 1160.4 L87.5 1159.1 L90.5 1157.8 L92.5 1157.3 L94.5 1157.2 L97.5 1157.3 L99.5 1157.4 L101.5 1157.1 L104.5 1156.4 L106.5 1155.9 L108.5 1155.6 L111.5 1155.9 L113.5 1156.4 L115.5 1157 L118.5 1158.1 L120.5 1159.6 L123.5 1162.8 L125.5 1165.6 L127.5 1168.5 L130.5 1172.2 L132.5 1175.1 L134.5 1177.8 L137.5 1181 L139.5 1183.1 L141.5 1184.9 L144.5 1186.8 L146.5 1187.7 L148.5 1187.6 L151.5 1186.7 L153.5 1185.6 L155.5 1184.4 L158.5 1182.6 L160.5 1181 L163.5 1178 L165.5 1174.9 L167.5 1171.4 L170.5 1166 L172.5 1161.5 L174.5 1156.4 L177.5 1149.9 L179.5 1145.3 L181.5 1141.6 L184.5 1139.5 L186.5 1139.4 L188.5 1140.2 L191.5 1141.5 L193.5 1142.9 L195.5 1144.8 L198.5 1147.2 L200.5 1148.7 L203.5 1149.5 L205.5 1149.9 L207.5 1150.5 L210.5 1151.7 L212.5 1152.9 L214.5 1155 L217.5 1159.5 L219.5 1163.7 L221.5 1168.4 L224.5 1176 L226.5 1181.2 L228.5 1185.3 L231.5 1189.4 L233.5 1192.2 L235.5 1194.9 L238.5 1198.8 L240.5 1201.8 L242.5 1204.7 L245.5 1208.7 L247.5 1211.8 L250.5 1215.3 L252.5 1217.7 L254.5 1219.7 L257.5 1220.9 L259.5 1220.6 L261.5 1219.5 L264.5 1216.9 L266.5 1214.4 L268.5 1211.6 L271.5 1206.6 L273.5 1202.5 L275.5 1198.5 L278.5 1194.1 L280.5 1191.3 L282.5 1189.1 L285.5 1187.2 L287.5 1186.8 L290.5 1188.2 L292.5 1190.1 L294.5 1192.4 L297.5 1195.5 L299.5 1197.5 L301.5 1199.3 L304.5 1201.6 L306.5 1203.3 L308.5 1205 L311.5 1207.1 L313.5 1208.6 L315.5 1209.9 L318.5 1211.3 L320.5 1212.4 L322.5 1213.5 L325.5 1215.5 L327.5 1217.3 L329.5 1219 L332.5 1220.5 L334.5 1220.6 L337.5 1219.5 L339.5 1218.2 L341.5 1216.9 L344.5 1215.2 L346.5 1214.1 L348.5 1213 L351.5 1211.8 L353.5 1211 L355.5 1210.3 L358.5 1209.5 L360.5 1209 L362.5 1208.5 L365.5 1208.1 L367.5 1207.8 L369.5 1207.7 L372.5 1207.6 L374.5 1207.6 L377.5 1207.7 L379.5 1207.9 L381.5 1208.5 L384.5 1210.2 L386.5 1212.5 L388.5 1215.6 L391.5 1220.1 L393.5 1224 L395.5 1227.9 L398.5 1232.6 L400.5 1235.5 L402.5 1237.7 L405.5 1239.7 L407.5 1240.9 L409.5 1241.9 L412.5 1243.1 L414.5 1243.7 L416.5 1243.8 L419.5 1242.9 L421.5 1241.8 L424.5 1240.1 L426.5 1238.8 L428.5 1237.5 L431.5 1235.8 L433.5 1234.5 L435.5 1233.4 L438.5 1232.2 L440.5 1231.4 L442.5 1230.6 L445.5 1229.7 L447.5 1229 L449.5 1228.4 L452.5 1227.9 L454.5 1227.6 L456.5 1227.2 L459.5 1225.3 L461.5 1222.8 L464.5 1218.5 L466.5 1215 L468.5 1211.5 L471.5 1206.9 L473.5 1203.8 L475.5 1201.2 L478.5 1198.2 L480.5 1196.3 L482.5 1194.7 L485.5 1192.9 L487.5 1191.9 L489.5 1191.4 L492.5 1191.6 L494.5 1192.2 L496.5 1193 L499.5 1194.3 L501.5 1195.4 L503.5 1196.6 L506.5 1198.4 L508.5 1199.8 L511.5 1201.9 L513.5 1203.6 L515.5 1205.4 L518.5 1208 L520.5 1210.1 L522.5 1212.4 L525.5 1215.9 L527.5 1218.9 L529.5 1222.1 L532.5 1225.9 L534.5 1228 L536.5 1229.7 L539.5 1230.9 L541.5 1231.4 L543.5 1231.5 L546.5 1231.5 L548.5 1231.4 L551.5 1231.1 L553.5 1230.7 L555.5 1230.2 L558.5 1229.3 L560.5 1228.5 L562.5 1227.7 L565.5 1226.7 L567.5 1226.1 L569.5 1225.5 L572.5 1224.8 L574.5 1224.4 L576.5 1223.9 L579.5 1223.5 L581.5 1223.4 L583.5 1223.5 L586.5 1223.4 L588.5 1223.1 L590.5 1222.7 L593.5 1221.8 L595.5 1220.9 L598.5 1219.5 L600.5 1218.4 L602.5 1217.5 L605.5 1216.3 L607.5 1215.6 L609.5 1214.8 L612.5 1213.8 L614.5 1213.1 L616.5 1212.4 L619.5 1211.7 L621.5 1211.4 L623.5 1211.1 L626.5 1210.7 L628.5 1210.1 L630.5 1209.3 L633.5 1207.6 L635.5 1205.9 L638.5 1203.7 L640.5 1201.9 L642.5 1200.1 L645.5 1197.6 L647.5 1195.7 L649.5 1193.7 L652.5 1190.8 L654.5 1188.6 L656.5 1186.5 L659.5 1184 L661.5 1182.5 L663.5 1181.3 L666.5 1180.5 L668.5 1180.3 L670.5 1180.4 L673.5 1181.5 L675.5 1182.7 L678.5 1183.8 L680.5 1184.1 L682.5 1183.9 L685.5 1183 L687.5 1182.3 L689.5 1181.5 L692.5 1180.6 L694.5 1180 L696.5 1179.6 L699.5 1179.1 L701.5 1178.8 L703.5 1178.3 L706.5 1177.6 L708.5 1177 L710.5 1176.4 L713.5 1175.6 L715.5 1175 L717.5 1174.3 L720.5 1173.3 L722.5 1173 L725.5 1173 L727.5 1173.3 L729.5 1174 L732.5 1175.6 L734.5 1177.1 L736.5 1178.8 L739.5 1181.1 L741.5 1182.7 L743.5 1184.1 L746.5 1186 L748.5 1187.8 L750.5 1190.3 L753.5 1194.5 L755.5 1198 L757.5 1201.5 L760.5 1205.6 L762.5 1208.5 L765.5 1211.6 L767.5 1213.5 L769.5 1214.6 L772.5 1215.2 L774.5 1215.9 L776.5 1217.2 L779.5 1219.4 L781.5 1221.3 L783.5 1223.4 L786.5 1229 L788.5 1235.2 L790.5 1242.3 L793.5 1251.1 L795.5 1257.3 L797.5 1262.8 L800.5 1267.9 L802.5 1270.3 L804.5 1271.5 L807.5 1271.6 L809.5 1270.6 L812.5 1267.9 L814.5 1264.8 L816.5 1261.4 L819.5 1257.2 L821.5 1254.1 L823.5 1251.4 L826.5 1248.3 L828.5 1246.1 L830.5 1244 L833.5 1240.8 L835.5 1238.2 L837.5 1235.4 L840.5 1231.5 L842.5 1228.6 L844.5 1225.7 L847.5 1221.6 L849.5 1218.4 L852.5 1214.6 L854.5 1212.3 L856.5 1210.5 L859.5 1209 L861.5 1208.2 L863.5 1207.4 L866.5 1206.6 L868.5 1206.1 L870.5 1205.6 L873.5 1204.8 L875.5 1204.3 L877.5 1204 L880.5 1203.6 L882.5 1203.1 L884.5 1202.4 L887.5 1201.2 L889.5 1200.2 L891.5 1199.1 L894.5 1197.3 L896.5 1195.6 L899.5 1192.4 L901.5 1189.4 L903.5 1186.2 L906.5 1182.1 L908.5 1179.3 L910.5 1176.8 L913.5 1173.6 L915.5 1171.5 L917.5 1169.3 L920.5 1166.4 L922.5 1164.5 L924.5 1163.5 L927.5 1163.9 L929.5 1164.9 L931.5 1165.8 L934.5 1166.4 L936.5 1166.8 L939.5 1167.3 L941.5 1167.7 L943.5 1168.1 L946.5 1168.8 L948.5 1169.7 L950.5 1171 L953.5 1173.1 L955.5 1174.7 L957.5 1176.6 L960.5 1179.4 L962.5 1182 L964.5 1184.3 L967.5 1186.3 L969.5 1187.3 L971.5 1187.9 L974.5 1188.1 L976.5 1187.9 L978.5 1187.8 L981.5 1187.6 L983.5 1187.5 L986.5 1187.6 L988.5 1187.7 L990.5 1187.8 L993.5 1187.9 L995.5 1188 L997.5 1188.3 L1000.5 1189 L1002.5 1189.9 L1004.5 1191 L1007.5 1192.6 L1009.5 1193.8 L1011.5 1194.8 L1014.5 1196.2 L1016.5 1197.2 L1018.5 1198.2 L1021.5 1199.6 L1023.5 1200.5 L1026.5 1201.5 L1028.5 1202.1 L1030.5 1202.7 L1033.5 1203.6 L1035.5 1204.4 L1037.5 1205.2 L1040.5 1206.2 L1042.5 1206.9 L1044.5 1207.6 L1047.5 1208.5 L1049.5 1209.1 L1051.5 1209.6 L1054.5 1210.3 L1056.5 1210.6 L1058.5 1210.6 L1061.5 1210.2 L1063.5 1209.8 L1066.5 1209.3 L1068.5 1208.9 L1070.5 1208.6 L1073.5 1208.3 L1075.5 1208.1 L1077.5 1207.9 L1080.5 1207.8 L1082.5 1207.7 L1084.5 1207.7 L1087.5 1207.6 L1089.5 1207.6 L1091.5 1207.6 L1094.5 1207.2 L1096.5 1206.7 L1098.5 1206 L1101.5 1204.9 L1103.5 1203.7 L1105.5 1202.2 L1108.5 1199 L1110.5 1195.9 L1113.5 1191.4 L1115.5 1187.9 L1117.5 1184.3 L1120.5 1179.8 L1122.5 1177 L1124.5 1174.5 L1127.5 1171.7 L1129.5 1169.8 L1131.5 1168.2 L1134.5 1166.4 L1136.5 1165.3 L1138.5 1164.5 L1141.5 1163.8 L1143.5 1163.7 L1145.5 1164 L1148.5 1164.7 L1150.5 1165.3 L1153.5 1166.1 L1155.5 1166.6 L1157.5 1167 L1160.5 1167.8 L1162.5 1168.6 L1164.5 1169.7 L1167.5 1171.5 L1169.5 1173.1 L1171.5 1174.8 L1174.5 1177.2 L1176.5 1179.1 L1178.5 1181.1 L1181.5 1183.8 L1183.5 1185.9 L1185.5 1187.8 L1188.5 1190.1 L1190.5 1191.2 L1192.5 1191.7 L1195.5 1193.3 L1197.5 1195.8 L1200.5 1200.2 L1202.5 1203.5 L1204.5 1206.9 L1207.5 1211.2 L1209.5 1214.2 L1211.5 1216.9 L1214.5 1219.5 L1216.5 1221.1 L1218.5 1222.4 L1221.5 1223.5 L1223.5 1223.9 L1225.5 1223.7 L1228.5 1222.4 L1230.5 1221 L1232.5 1219.6 L1235.5 1217.6 L1237.5 1216.1 L1240.5 1215.1 L1242.5 1214.7 L1244.5 1214.6 L1247.5 1214.3 L1249.5 1214 L1251.5 1213.5 L1254.5 1212.8 L1256.5 1212.2 L1258.5 1211.7 L1261.5 1211.1 L1263.5 1210.7 L1265.5 1210.4 L1268.5 1210.1 L1270.5 1209.9 L1272.5 1209.7 L1275.5 1209.5 L1277.5 1209.3 L1279.5 1208.9 L1282.5 1207.8 L1284.5 1206.7 L1287.5 1204.8 L1289.5 1203 L1291.5 1201.4 L1294.5 1199.3 L1296.5 1197.9 L1298.5 1196.6 L1301.5 1195.4 L1303.5 1194.5 L1305.5 1193.5 L1308.5 1191.6 L1310.5 1189.6 L1312.5 1187.2 L1315.5 1183.6 L1317.5 1180.7 L1319.5 1177.7 L1322.5 1173.7 L1324.5 1170.9 L1327.5 1167.7 L1329.5 1165.4 L1331.5 1163.4 L1334.5 1161.2 L1336.5 1160 L1338.5 1159.1 L1341.5 1158 L1343.5 1156.9 L1345.5 1155 L1348.5 1151.6 L1350.5 1149.2 L1352.5 1147 L1355.5 1144.3 L1357.5 1142.5 L1359.5 1140.9 L1362.5 1138.7 L1364.5 1137 L1366.5 1135.6 L1369.5 1134.5 L1371.5 1133.4 L1374.5 1131 L1376.5 1128.7 L1378.5 1126.2 L1381.5 1122.4 L1383.5 1119.2 L1385.5 1116.2" fill="none" stroke="#ff6d00" stroke-width="1.8" stroke-linejoin="round" stroke-linecap="round"/>
<text x="1112.5" y="567" font-size="30" fill="#673ab7" text-anchor="start" font-weight="normal" stroke="#673ab7" stroke-width="0.7">2</text>
<text x="1402.3" y="865.4" font-size="27.5" fill="#000000" text-anchor="start" font-weight="normal" textLength="15.3" lengthAdjust="spacingAndGlyphs" stroke="#000000" stroke-width="0.1">3</text>
<text x="1408.8" y="1143" font-size="27.5" fill="#000000" text-anchor="start" font-weight="normal" textLength="15.3" lengthAdjust="spacingAndGlyphs" stroke="#000000" stroke-width="0.1">3</text>
<rect x="0" y="0" width="400" height="33" fill="rgba(255,255,255,0.85)"/>
<rect x="0" y="37" width="441" height="28" fill="rgba(255,255,255,0.8)"/>
<rect x="4" y="832" width="176" height="28" fill="rgba(255,255,255,0.62)"/>
<rect x="4" y="1093" width="405" height="28" fill="rgba(255,255,255,0.8)"/>
<text x="11.8" y="25.6" font-size="23.3" fill="#50535e" text-anchor="start" font-weight="normal" textLength="72.7" lengthAdjust="spacingAndGlyphs" stroke="#50535e" stroke-width="0.35">Bitcoin</text>
<text x="95.3" y="25.6" font-size="23.3" fill="#50535e" text-anchor="start" font-weight="normal" textLength="8.2" lengthAdjust="spacingAndGlyphs" stroke="#50535e" stroke-width="0.35">/</text>
<text x="114" y="25.6" font-size="23.3" fill="#50535e" text-anchor="start" font-weight="normal" textLength="61.3" lengthAdjust="spacingAndGlyphs" stroke="#50535e" stroke-width="0.35">Dollar</text>
<text x="196.3" y="25.6" font-size="23.3" fill="#50535e" text-anchor="start" font-weight="normal" textLength="24.3" lengthAdjust="spacingAndGlyphs" stroke="#50535e" stroke-width="0.35">1D</text>
<text x="240" y="25.6" font-size="23.3" fill="#50535e" text-anchor="start" font-weight="normal" textLength="104" lengthAdjust="spacingAndGlyphs" stroke="#50535e" stroke-width="0.35">COINBASE</text>
<circle cx="184.8" cy="17.6" r="1.4" fill="#50535e"/><circle cx="230.7" cy="17.6" r="1.4" fill="#50535e"/>
<circle cx="380.3" cy="17.2" r="13.4" fill="#e0f2f1"/><circle cx="380.1" cy="17" r="6.1" fill="#009688"/>
<text x="418.5" y="27" font-size="19.2" fill="#50535e" text-anchor="start" font-weight="normal" textLength="12.5" lengthAdjust="spacingAndGlyphs" stroke="#50535e" stroke-width="0.35">O</text>
<text x="432" y="27" font-size="19.2" fill="#ef5350" text-anchor="start" font-weight="normal" textLength="77" lengthAdjust="spacingAndGlyphs" stroke="#ef5350" stroke-width="0.35">18721.21</text>
<text x="521" y="27" font-size="19.2" fill="#50535e" text-anchor="start" font-weight="normal" textLength="12" lengthAdjust="spacingAndGlyphs" stroke="#50535e" stroke-width="0.35">H</text>
<text x="535" y="27" font-size="19.2" fill="#ef5350" text-anchor="start" font-weight="normal" textLength="78" lengthAdjust="spacingAndGlyphs" stroke="#ef5350" stroke-width="0.35">18773.56</text>
<text x="623" y="27" font-size="19.2" fill="#50535e" text-anchor="start" font-weight="normal" textLength="9.5" lengthAdjust="spacingAndGlyphs" stroke="#50535e" stroke-width="0.35">L</text>
<text x="634" y="27" font-size="19.2" fill="#ef5350" text-anchor="start" font-weight="normal" textLength="78" lengthAdjust="spacingAndGlyphs" stroke="#ef5350" stroke-width="0.35">17610.77</text>
<text x="722" y="27" font-size="19.2" fill="#50535e" text-anchor="start" font-weight="normal" textLength="11.5" lengthAdjust="spacingAndGlyphs" stroke="#50535e" stroke-width="0.35">C</text>
<text x="735" y="27" font-size="19.2" fill="#ef5350" text-anchor="start" font-weight="normal" textLength="78" lengthAdjust="spacingAndGlyphs" stroke="#ef5350" stroke-width="0.35">18525.48</text>
<text x="823.5" y="27" font-size="19.2" fill="#ef5350" text-anchor="start" font-weight="normal" textLength="66.5" lengthAdjust="spacingAndGlyphs" stroke="#ef5350" stroke-width="0.35">−195.73</text>
<text x="898.5" y="27" font-size="19.2" fill="#ef5350" text-anchor="start" font-weight="normal" textLength="71.5" lengthAdjust="spacingAndGlyphs" stroke="#ef5350" stroke-width="0.35">(−1.05%)</text>
<text x="11" y="59.8" font-size="19.5" fill="#50535e" text-anchor="start" font-weight="normal" textLength="45" lengthAdjust="spacingAndGlyphs" stroke="#50535e" stroke-width="0.35">DMAs</text>
<text x="68" y="59.8" font-size="19.5" fill="#131722" text-anchor="start" font-weight="normal" textLength="31" lengthAdjust="spacingAndGlyphs" stroke="#131722" stroke-width="0.35">n/a</text>
<text x="108" y="59.8" font-size="19.5" fill="#131722" text-anchor="start" font-weight="normal" textLength="31" lengthAdjust="spacingAndGlyphs" stroke="#131722" stroke-width="0.35">n/a</text>
<text x="148" y="59.8" font-size="19.5" fill="#131722" text-anchor="start" font-weight="normal" textLength="31" lengthAdjust="spacingAndGlyphs" stroke="#131722" stroke-width="0.35">n/a</text>
<text x="188.5" y="59.8" font-size="19.5" fill="#bbdefb" text-anchor="start" font-weight="normal" textLength="78.5" lengthAdjust="spacingAndGlyphs" stroke="#bbdefb" stroke-width="0.35">13820.77</text>
<text x="276" y="59.8" font-size="19.5" fill="#131722" text-anchor="start" font-weight="normal" textLength="31" lengthAdjust="spacingAndGlyphs" stroke="#131722" stroke-width="0.35">n/a</text>
<text x="316" y="59.8" font-size="19.5" fill="#131722" text-anchor="start" font-weight="normal" textLength="31" lengthAdjust="spacingAndGlyphs" stroke="#131722" stroke-width="0.35">n/a</text>
<text x="357" y="59.8" font-size="19.5" fill="#1976d2" text-anchor="start" font-weight="normal" textLength="78" lengthAdjust="spacingAndGlyphs" stroke="#1976d2" stroke-width="0.35">11092.10</text>
<text x="11" y="849.5" font-size="19.5" fill="#50535e" text-anchor="start" font-weight="normal" textLength="103.5" lengthAdjust="spacingAndGlyphs" stroke="#50535e" stroke-width="0.35">RSI 14 close</text>
<text x="126" y="849.5" font-size="19.5" fill="#881498" text-anchor="start" font-weight="normal" textLength="48" lengthAdjust="spacingAndGlyphs" stroke="#881498" stroke-width="0.35">80.34</text>
<text x="11" y="1111" font-size="19.5" fill="#50535e" text-anchor="start" font-weight="normal" textLength="168" lengthAdjust="spacingAndGlyphs" stroke="#50535e" stroke-width="0.35">MACD 12 26 close 9</text>
<text x="192" y="1111" font-size="19.5" fill="#b2dfdb" text-anchor="start" font-weight="normal" textLength="57" lengthAdjust="spacingAndGlyphs" stroke="#b2dfdb" stroke-width="0.35">164.70</text>
<text x="259" y="1111" font-size="19.5" fill="#2196f3" text-anchor="start" font-weight="normal" textLength="68" lengthAdjust="spacingAndGlyphs" stroke="#2196f3" stroke-width="0.35">1348.52</text>
<text x="337" y="1111" font-size="19.5" fill="#ff6d00" text-anchor="start" font-weight="normal" textLength="67" lengthAdjust="spacingAndGlyphs" stroke="#ff6d00" stroke-width="0.35">1183.82</text>
<text x="1449.5" y="71.8" font-size="18.3" fill="#787b86" text-anchor="end" font-weight="normal" textLength="8.5" lengthAdjust="spacingAndGlyphs" stroke="#787b86" stroke-width="0.35">1</text>
<text x="1449.5" y="216" font-size="18.3" fill="#64b5f6" text-anchor="end" font-weight="normal" textLength="42" lengthAdjust="spacingAndGlyphs" stroke="#64b5f6" stroke-width="0.35">0.786</text>
<text x="1449.5" y="330" font-size="18.3" fill="#089981" text-anchor="end" font-weight="normal" textLength="42" lengthAdjust="spacingAndGlyphs" stroke="#089981" stroke-width="0.35">0.618</text>
<text x="1449.5" y="409" font-size="18.3" fill="#4caf50" text-anchor="end" font-weight="normal" textLength="24" lengthAdjust="spacingAndGlyphs" stroke="#4caf50" stroke-width="0.35">0.5</text>
<text x="1449.5" y="488.5" font-size="18.3" fill="#81c784" text-anchor="end" font-weight="normal" textLength="42" lengthAdjust="spacingAndGlyphs" stroke="#81c784" stroke-width="0.35">0.382</text>
<text x="1449.5" y="588" font-size="18.3" fill="#f44336" text-anchor="end" font-weight="normal" textLength="42" lengthAdjust="spacingAndGlyphs" stroke="#f44336" stroke-width="0.35">0.236</text>
<text x="1449.5" y="747" font-size="18.3" fill="#787b86" text-anchor="end" font-weight="normal" textLength="9" lengthAdjust="spacingAndGlyphs" stroke="#787b86" stroke-width="0.35">0</text>
<rect x="1462.5" y="0" width="95.5" height="1345" fill="#ffffff"/>
<rect x="0" y="1307.0" width="1558" height="40" fill="#ffffff"/>
<line x1="1462.5" y1="0" x2="1462.5" y2="1345" stroke="#6a6d78" stroke-width="1.25"/>
<line x1="0" y1="818.7" x2="1558" y2="818.7" stroke="#6a6d78" stroke-width="1.2"/>
<line x1="0" y1="1079" x2="1549" y2="1079" stroke="#6a6d78" stroke-width="2.2"/>
<line x1="0" y1="1306.5" x2="1558" y2="1306.5" stroke="#6a6d78" stroke-width="1.1"/>
<line x1="1462.5" y1="30.5" x2="1468.8" y2="30.5" stroke="#6a6d78" stroke-width="1"/>
<text x="1475.3" y="36.9" font-size="18.1" fill="#50535e" text-anchor="start" font-weight="normal" textLength="68.5" lengthAdjust="spacingAndGlyphs" stroke="#50535e" stroke-width="0.35">20000.00</text>
<line x1="1462.5" y1="119.5" x2="1468.8" y2="119.5" stroke="#6a6d78" stroke-width="1"/>
<text x="1475.3" y="125.9" font-size="18.1" fill="#50535e" text-anchor="start" font-weight="normal" textLength="68.5" lengthAdjust="spacingAndGlyphs" stroke="#50535e" stroke-width="0.35">18000.00</text>
<line x1="1462.5" y1="209.5" x2="1468.8" y2="209.5" stroke="#6a6d78" stroke-width="1"/>
<text x="1475.3" y="215.9" font-size="18.1" fill="#50535e" text-anchor="start" font-weight="normal" textLength="68.5" lengthAdjust="spacingAndGlyphs" stroke="#50535e" stroke-width="0.35">16000.00</text>
<line x1="1462.5" y1="298.5" x2="1468.8" y2="298.5" stroke="#6a6d78" stroke-width="1"/>
<text x="1475.3" y="304.9" font-size="18.1" fill="#50535e" text-anchor="start" font-weight="normal" textLength="68.5" lengthAdjust="spacingAndGlyphs" stroke="#50535e" stroke-width="0.35">14000.00</text>
<line x1="1462.5" y1="387.5" x2="1468.8" y2="387.5" stroke="#6a6d78" stroke-width="1"/>
<text x="1475.3" y="393.9" font-size="18.1" fill="#50535e" text-anchor="start" font-weight="normal" textLength="68.5" lengthAdjust="spacingAndGlyphs" stroke="#50535e" stroke-width="0.35">12000.00</text>
<line x1="1462.5" y1="476.5" x2="1468.8" y2="476.5" stroke="#6a6d78" stroke-width="1"/>
<text x="1475.3" y="482.9" font-size="18.1" fill="#50535e" text-anchor="start" font-weight="normal" textLength="68.5" lengthAdjust="spacingAndGlyphs" stroke="#50535e" stroke-width="0.35">10000.00</text>
<line x1="1462.5" y1="566.5" x2="1468.8" y2="566.5" stroke="#6a6d78" stroke-width="1"/>
<text x="1475.3" y="572.9" font-size="18.1" fill="#50535e" text-anchor="start" font-weight="normal" textLength="60" lengthAdjust="spacingAndGlyphs" stroke="#50535e" stroke-width="0.35">8000.00</text>
<line x1="1462.5" y1="655.5" x2="1468.8" y2="655.5" stroke="#6a6d78" stroke-width="1"/>
<text x="1475.3" y="661.9" font-size="18.1" fill="#50535e" text-anchor="start" font-weight="normal" textLength="60" lengthAdjust="spacingAndGlyphs" stroke="#50535e" stroke-width="0.35">6000.00</text>
<line x1="1462.5" y1="744.5" x2="1468.8" y2="744.5" stroke="#6a6d78" stroke-width="1"/>
<text x="1475.3" y="750.9" font-size="18.1" fill="#50535e" text-anchor="start" font-weight="normal" textLength="60" lengthAdjust="spacingAndGlyphs" stroke="#50535e" stroke-width="0.35">4000.00</text>
<line x1="1462.5" y1="870.5" x2="1468.8" y2="870.5" stroke="#6a6d78" stroke-width="1"/>
<text x="1475.3" y="876.9" font-size="18.1" fill="#50535e" text-anchor="start" font-weight="normal" textLength="42.5" lengthAdjust="spacingAndGlyphs" stroke="#50535e" stroke-width="0.35">80.00</text>
<line x1="1462.5" y1="927.5" x2="1468.8" y2="927.5" stroke="#6a6d78" stroke-width="1"/>
<text x="1475.3" y="933.9" font-size="18.1" fill="#50535e" text-anchor="start" font-weight="normal" textLength="42.5" lengthAdjust="spacingAndGlyphs" stroke="#50535e" stroke-width="0.35">60.00</text>
<line x1="1462.5" y1="985.5" x2="1468.8" y2="985.5" stroke="#6a6d78" stroke-width="1"/>
<text x="1475.3" y="991.9" font-size="18.1" fill="#50535e" text-anchor="start" font-weight="normal" textLength="42.5" lengthAdjust="spacingAndGlyphs" stroke="#50535e" stroke-width="0.35">40.00</text>
<line x1="1462.5" y1="1043.5" x2="1468.8" y2="1043.5" stroke="#6a6d78" stroke-width="1"/>
<text x="1475.3" y="1049.9" font-size="18.1" fill="#50535e" text-anchor="start" font-weight="normal" textLength="42.5" lengthAdjust="spacingAndGlyphs" stroke="#50535e" stroke-width="0.35">20.00</text>
<line x1="1462.5" y1="1205.5" x2="1468.8" y2="1205.5" stroke="#6a6d78" stroke-width="1"/>
<text x="1475.3" y="1212.4" font-size="18.1" fill="#50535e" text-anchor="start" font-weight="normal" textLength="33.5" lengthAdjust="spacingAndGlyphs" stroke="#50535e" stroke-width="0.35">0.00</text>
<line x1="1462.5" y1="1280.5" x2="1468.8" y2="1280.5" stroke="#6a6d78" stroke-width="1"/>
<text x="1475.3" y="1286.2" font-size="18.1" fill="#50535e" text-anchor="start" font-weight="normal" textLength="70" lengthAdjust="spacingAndGlyphs" stroke="#50535e" stroke-width="0.35">−1000.00</text>
<rect x="1462.2" y="83" width="93.8" height="27" fill="#ef5350"/>
<line x1="1462.5" y1="96.5" x2="1468.5" y2="96.5" stroke="#ffffff" stroke-width="1"/>
<text x="1475.5" y="103" font-size="18.1" fill="#ffffff" text-anchor="start" font-weight="normal" textLength="68.5" lengthAdjust="spacingAndGlyphs" stroke="#ffffff" stroke-width="0.35">18525.48</text>
<rect x="1462.2" y="841" width="66.8" height="27" fill="#2196f3"/>
<line x1="1462.5" y1="854.5" x2="1468.5" y2="854.5" stroke="#ffffff" stroke-width="1"/>
<text x="1475.5" y="861" font-size="18.1" fill="#ffffff" text-anchor="start" font-weight="normal" textLength="41.5" lengthAdjust="spacingAndGlyphs" stroke="#ffffff" stroke-width="0.35">85.37</text>
<rect x="1462.2" y="1114" width="84.8" height="27" fill="#2196f3"/>
<line x1="1462.5" y1="1127.5" x2="1468.5" y2="1127.5" stroke="#ffffff" stroke-width="1"/>
<text x="1475.7" y="1134" font-size="18.1" fill="#ffffff" text-anchor="start" font-weight="normal" textLength="58.7" lengthAdjust="spacingAndGlyphs" stroke="#ffffff" stroke-width="0.35">1032.55</text>
<rect x="1487.5" y="2.5" width="45" height="28" fill="#ffffff" stroke="#d1d4dc" stroke-width="1" rx="4.5"/>
<text x="1510" y="22.8" font-size="17.5" fill="#50535e" text-anchor="middle" font-weight="normal" textLength="30.5" lengthAdjust="spacingAndGlyphs" stroke="#50535e" stroke-width="0.35">USD</text>
<defs><filter id="sh" x="-50%" y="-20%" width="200%" height="140%"><feGaussianBlur stdDeviation="2"/></filter></defs>
<rect x="1548" y="1062" width="20" height="59" rx="5" fill="rgba(60,70,100,0.28)" filter="url(#sh)"/>
<rect x="1548.5" y="1062" width="20" height="57.5" rx="5" fill="#ffffff"/>
<rect x="1555" y="1081.3" width="6" height="2.4" fill="#d1d4dc"/>
<rect x="1555" y="1088.8" width="6" height="2.4" fill="#d1d4dc"/>
<rect x="1555" y="1095.8" width="6" height="2.4" fill="#d1d4dc"/>
<line x1="42.5" y1="1306.5" x2="42.5" y2="1311.5" stroke="#6a6d78" stroke-width="1"/>
<text x="42.2" y="1336.2" font-size="17.6" fill="#50535e" text-anchor="middle" font-weight="normal" textLength="28" lengthAdjust="spacingAndGlyphs" stroke="#50535e" stroke-width="0.35">Mai</text>
<line x1="186.5" y1="1306.5" x2="186.5" y2="1311.5" stroke="#6a6d78" stroke-width="1"/>
<text x="186.2" y="1336.2" font-size="17.6" fill="#50535e" text-anchor="middle" font-weight="normal" textLength="24" lengthAdjust="spacingAndGlyphs" stroke="#50535e" stroke-width="0.35">Jul</text>
<line x1="332" y1="1306.5" x2="332" y2="1311.5" stroke="#6a6d78" stroke-width="1"/>
<text x="331.7" y="1336.2" font-size="17.6" fill="#50535e" text-anchor="middle" font-weight="normal" textLength="28.5" lengthAdjust="spacingAndGlyphs" stroke="#50535e" stroke-width="0.35">Sep</text>
<line x1="475.5" y1="1306.5" x2="475.5" y2="1311.5" stroke="#6a6d78" stroke-width="1"/>
<text x="475.2" y="1336.2" font-size="17.6" fill="#50535e" text-anchor="middle" font-weight="normal" textLength="31.5" lengthAdjust="spacingAndGlyphs" stroke="#50535e" stroke-width="0.35">Nov</text>
<line x1="619.5" y1="1306.5" x2="619.5" y2="1311.5" stroke="#6a6d78" stroke-width="1"/>
<text x="619.2" y="1336.2" font-size="17.6" fill="#50535e" text-anchor="middle" font-weight="normal" textLength="41" lengthAdjust="spacingAndGlyphs" stroke="#50535e" stroke-width="0.8">2020</text>
<line x1="760.5" y1="1306.5" x2="760.5" y2="1311.5" stroke="#6a6d78" stroke-width="1"/>
<text x="760.2" y="1336.2" font-size="17.6" fill="#50535e" text-anchor="middle" font-weight="normal" textLength="30.5" lengthAdjust="spacingAndGlyphs" stroke="#50535e" stroke-width="0.35">Mrz</text>
<line x1="903.5" y1="1306.5" x2="903.5" y2="1311.5" stroke="#6a6d78" stroke-width="1"/>
<text x="903.2" y="1336.2" font-size="17.6" fill="#50535e" text-anchor="middle" font-weight="normal" textLength="28" lengthAdjust="spacingAndGlyphs" stroke="#50535e" stroke-width="0.35">Mai</text>
<line x1="1047.5" y1="1306.5" x2="1047.5" y2="1311.5" stroke="#6a6d78" stroke-width="1"/>
<text x="1047.2" y="1336.2" font-size="17.6" fill="#50535e" text-anchor="middle" font-weight="normal" textLength="24" lengthAdjust="spacingAndGlyphs" stroke="#50535e" stroke-width="0.35">Jul</text>
<line x1="1193.3" y1="1306.5" x2="1193.3" y2="1311.5" stroke="#6a6d78" stroke-width="1"/>
<text x="1193.0" y="1336.2" font-size="17.6" fill="#50535e" text-anchor="middle" font-weight="normal" textLength="28.5" lengthAdjust="spacingAndGlyphs" stroke="#50535e" stroke-width="0.35">Sep</text>
<line x1="1336.6" y1="1306.5" x2="1336.6" y2="1311.5" stroke="#6a6d78" stroke-width="1"/>
<text x="1336.3" y="1336.2" font-size="17.6" fill="#50535e" text-anchor="middle" font-weight="normal" textLength="31.5" lengthAdjust="spacingAndGlyphs" stroke="#50535e" stroke-width="0.35">Nov</text>
<g transform="translate(1510.2 1328.3)" stroke="#131722" fill="none"><circle r="7.3" stroke-width="1.4"/><line x1="8.00" y1="0.00" x2="10.70" y2="0.00" stroke-width="1.6"/><line x1="5.66" y1="5.66" x2="7.57" y2="7.57" stroke-width="1.6"/><line x1="0.00" y1="8.00" x2="0.00" y2="10.70" stroke-width="1.6"/><line x1="-5.66" y1="5.66" x2="-7.57" y2="7.57" stroke-width="1.6"/><line x1="-8.00" y1="0.00" x2="-10.70" y2="0.00" stroke-width="1.6"/><line x1="-5.66" y1="-5.66" x2="-7.57" y2="-7.57" stroke-width="1.6"/><line x1="-0.00" y1="-8.00" x2="-0.00" y2="-9.30" stroke-width="1.6"/><line x1="5.66" y1="-5.66" x2="7.57" y2="-7.57" stroke-width="1.6"/></g></svg>
</body></html>
